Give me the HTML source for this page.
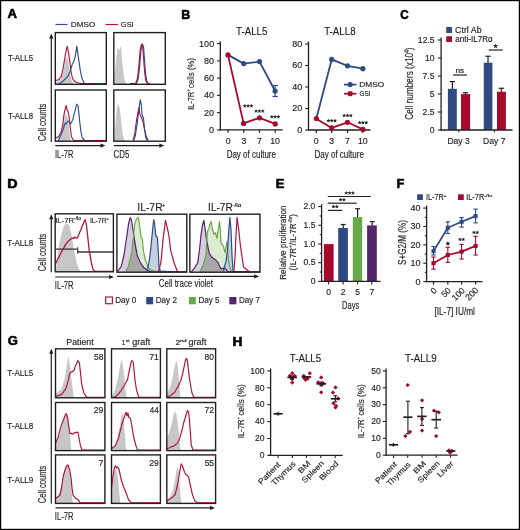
<!DOCTYPE html><html><head><meta charset="utf-8"><style>html,body{margin:0;padding:0;background:#fff}svg{display:block;will-change:transform;font-family:"Liberation Sans",sans-serif}text{stroke:#231f20;stroke-width:0.16px}</style></head><body>
<svg width="520" height="530" viewBox="0 0 520 530">
<rect x="0" y="0" width="520" height="530" fill="#fff"/>
<text x="7.47" y="18.2" font-size="12.06" textLength="9.49" lengthAdjust="spacingAndGlyphs" fill="#000" font-weight="bold" style="stroke:#000;stroke-width:0.55px">A</text>
<text x="181.39" y="18.8" font-size="12.06" textLength="9" lengthAdjust="spacingAndGlyphs" fill="#000" font-weight="bold" style="stroke:#000;stroke-width:0.55px">B</text>
<text x="400.24" y="18.8" font-size="12.06" textLength="8.38" lengthAdjust="spacingAndGlyphs" fill="#000" font-weight="bold" style="stroke:#000;stroke-width:0.55px">C</text>
<text x="7.27" y="188" font-size="12.06" textLength="10.33" lengthAdjust="spacingAndGlyphs" fill="#000" font-weight="bold" style="stroke:#000;stroke-width:0.55px">D</text>
<text x="275.66" y="187.9" font-size="12.06" textLength="8.62" lengthAdjust="spacingAndGlyphs" fill="#000" font-weight="bold" style="stroke:#000;stroke-width:0.55px">E</text>
<text x="396.47" y="187.9" font-size="12.06" textLength="7.79" lengthAdjust="spacingAndGlyphs" fill="#000" font-weight="bold" style="stroke:#000;stroke-width:0.55px">F</text>
<text x="7.68" y="345.2" font-size="12.06" textLength="10.14" lengthAdjust="spacingAndGlyphs" fill="#000" font-weight="bold" style="stroke:#000;stroke-width:0.55px">G</text>
<text x="232.41" y="345.6" font-size="12.06" textLength="9.91" lengthAdjust="spacingAndGlyphs" fill="#000" font-weight="bold" style="stroke:#000;stroke-width:0.55px">H</text>
<line x1="55.5" y1="24.5" x2="67.5" y2="24.5" stroke="#2d4d8e" stroke-width="1.2"/>
<text x="70.74" y="27.4" font-size="7.99" textLength="24.77" lengthAdjust="spacingAndGlyphs" fill="#231f20">DMSO</text>
<line x1="105.5" y1="24.5" x2="118" y2="24.5" stroke="#b3143f" stroke-width="1.2"/>
<text x="120.83" y="27.4" font-size="7.99" textLength="12.87" lengthAdjust="spacingAndGlyphs" fill="#231f20">GSI</text>
<text x="7.94" y="61.4" font-size="8.43" textLength="25.06" lengthAdjust="spacingAndGlyphs" fill="#231f20">T-ALL5</text>
<text x="7.94" y="118.6" font-size="8.43" textLength="25.06" lengthAdjust="spacingAndGlyphs" fill="#231f20">T-ALL8</text>
<text transform="translate(45.6,140.8) rotate(-90)" x="-0.38" y="0" font-size="10.9" textLength="37.56" lengthAdjust="spacingAndGlyphs" fill="#231f20">Cell counts</text>
<line x1="51.3" y1="142" x2="51.3" y2="37" stroke="#231f20" stroke-width="1.2"/>
<path d="M49.2 38.5 L51.3 33.5 L53.4 38.5 Z" fill="#231f20" stroke="none" stroke-width="0" stroke-linejoin="round"/>
<line x1="55.3" y1="145.6" x2="102" y2="145.6" stroke="#231f20" stroke-width="1.2"/>
<path d="M100.5 143.5 L105.5 145.6 L100.5 147.7 Z" fill="#231f20" stroke="none" stroke-width="0" stroke-linejoin="round"/>
<line x1="113.8" y1="145.6" x2="160.8" y2="145.6" stroke="#231f20" stroke-width="1.2"/>
<path d="M159.3 143.5 L164.3 145.6 L159.3 147.7 Z" fill="#231f20" stroke="none" stroke-width="0" stroke-linejoin="round"/>
<text x="55.03" y="157.7" font-size="10.47" textLength="18.31" lengthAdjust="spacingAndGlyphs" fill="#231f20">IL-7R</text>
<text x="113.61" y="157.7" font-size="10.47" textLength="15.71" lengthAdjust="spacingAndGlyphs" fill="#231f20">CD5</text>
<path d="M55.2 84 L55.2 82.5 L58.9 81 L61.2 79.6 L63.5 70.4 L65.3 61.2 L67 56.5 L68.2 60 L69.3 68 L71 78.5 L73.3 84 L73.3 84 Z" fill="#c7c7c9" stroke="none" stroke-width="0" stroke-linejoin="round"/>
<path d="M55.2 80.8 L56.12 80.44 L57.05 80.07 L57.98 79.96 L58.9 79.6 L60.05 77.9 L61.2 76.7 L62.1 72.98 L63 69.2 L63.85 63.89 L64.7 58.8 L65.55 53.85 L66.4 49.6 L67.2 46.4 L68.4 51.9 L69.9 62.3 L71 71.5 L72.5 78.5 L73.37 79.64 L74.23 80.62 L75.1 81.9 L76.02 82.18 L76.94 82.46 L77.86 82.74 L78.78 83.02 L79.7 83.3 L80.58 83.35 L81.47 83.4 L82.35 83.45 L83.23 83.5 L84.12 83.55 L85 83.6 L85.81 83.6 L86.62 83.6 L87.42 83.6 L88.23 83.6 L89.04 83.6 L89.85 83.6 L90.65 83.6 L91.46 83.6 L92.27 83.6 L93.08 83.6 L93.88 83.6 L94.69 83.6 L95.5 83.6 L96.31 83.6 L97.12 83.6 L97.92 83.6 L98.73 83.6 L99.54 83.6 L100.35 83.6 L101.15 83.6 L101.96 83.6 L102.77 83.6 L103.58 83.6 L104.38 83.6 L105.19 83.6 L106 83.6" fill="none" stroke="#b3143f" stroke-width="1.15" stroke-linejoin="round"/>
<path d="M58.9 84 L59.82 83.36 L60.74 82.72 L61.66 82.08 L62.58 81.42 L63.5 80.8 L64.38 79.75 L65.25 78.85 L66.12 78.13 L67 77.3 L67.97 76.03 L68.93 73.93 L69.9 72.7 L71.05 68.43 L72.2 64.6 L73.05 63 L73.9 61.2 L75.1 57.1 L76 51.9 L76.8 46.2 L77.6 51.9 L79.1 62.3 L80.3 70.4 L81.15 74.81 L82 78.5 L83.15 81.07 L84.3 83.6 L85.22 83.65 L86.15 83.7 L87.08 83.75 L88 83.8" fill="none" stroke="#2d4d8e" stroke-width="1.15" stroke-linejoin="round"/>
<path d="M114.2 84 L114.2 84 L115.8 62.3 L116.7 55.4 L117.5 48.5 L118.3 47.3 L119.2 50.8 L120.2 47.3 L121 46.7 L121.8 55.4 L122.7 66.9 L123.6 73.8 L124.4 79.6 L126.2 84 L126.2 84 Z" fill="#c7c7c9" stroke="none" stroke-width="0" stroke-linejoin="round"/>
<path d="M130 83.6 L130.81 83.6 L131.62 83.6 L132.44 83.6 L133.25 83.6 L134.06 83.6 L134.88 83.6 L135.69 83.6 L136.5 83.6 L137.4 81.02 L138.3 78.5 L139.8 64.6 L140.9 50.8 L142.1 43.8 L143.5 46.2 L144.4 58.8 L145.5 72.7 L146.7 80.8 L148.1 83.6 L149.05 83.6 L150 83.6" fill="none" stroke="#2d4d8e" stroke-width="1.15" stroke-linejoin="round"/>
<path d="M135.5 83.6 L136.5 81.19 L137.5 78.5 L139 64.6 L140.1 50.8 L141.3 44.5 L142.7 46.5 L143.6 58.8 L144.7 72.7 L145.9 80.8 L147.3 83.6" fill="none" stroke="#b3143f" stroke-width="1.15" stroke-linejoin="round"/>
<path d="M55.2 141 L55.2 141 L58.9 138.9 L61.8 133.2 L63.5 125.1 L64.7 117 L66.1 113.5 L67.6 118.2 L69.1 130.8 L70.5 141 L70.5 141 Z" fill="#c7c7c9" stroke="none" stroke-width="0" stroke-linejoin="round"/>
<path d="M55.2 138.3 L56.12 137.73 L57.05 137.58 L57.98 136.94 L58.9 136.6 L60.05 134.06 L61.2 132 L62.1 127.64 L63 123.9 L63.8 115.8 L64.7 111.2 L66.1 105.5 L67.2 110.1 L68.2 111.8 L69.1 117 L70.2 127.4 L71.4 136.6 L72.35 138.4 L73.3 140.3 L74.2 140.45 L75.1 140.6 L75.91 140.6 L76.73 140.6 L77.54 140.6 L78.35 140.6 L79.17 140.6 L79.98 140.6 L80.79 140.6 L81.61 140.6 L82.42 140.6 L83.23 140.6 L84.04 140.6 L84.86 140.6 L85.67 140.6 L86.48 140.6 L87.3 140.6 L88.11 140.6 L88.92 140.6 L89.74 140.6 L90.55 140.6 L91.36 140.6 L92.18 140.6 L92.99 140.6 L93.8 140.6 L94.62 140.6 L95.43 140.6 L96.24 140.6 L97.06 140.6 L97.87 140.6 L98.68 140.6 L99.49 140.6 L100.31 140.6 L101.12 140.6 L101.93 140.6 L102.75 140.6 L103.56 140.6 L104.37 140.6 L105.19 140.6 L106 140.6" fill="none" stroke="#b3143f" stroke-width="1.15" stroke-linejoin="round"/>
<path d="M58.3 140.6 L59.27 138.5 L60.23 136.55 L61.2 134.3 L62.1 131.74 L63 129.7 L64.5 125.1 L65.6 122.8 L66.4 123.9 L67.6 121.6 L68.7 121 L69.6 122.52 L70.5 123.9 L71.8 121.6 L73 119.3 L73.9 114.7 L75.1 110.7 L76 106.6 L76.8 104.1 L78 105.5 L78.8 112.4 L79.7 121.6 L80.8 130.8 L82.2 137.8 L83.1 138.73 L84 139.67 L84.9 140.6" fill="none" stroke="#2d4d8e" stroke-width="1.15" stroke-linejoin="round"/>
<path d="M114.2 141 L114.2 141 L115.8 119.3 L116.9 107.8 L118.3 103.2 L119.5 107.8 L121 119.3 L122.5 133.2 L123.8 138.9 L125 141 L125 141 Z" fill="#c7c7c9" stroke="none" stroke-width="0" stroke-linejoin="round"/>
<path d="M133.1 140.6 L133.95 136.96 L134.8 133.2 L135.65 126.75 L136.5 120.5 L137.9 112.4 L139.1 107.2 L139.8 114.1 L141.4 117.6 L142.9 121.6 L143.75 125.69 L144.6 129.7 L145.45 132.81 L146.3 136.6 L147.2 138.6 L148.1 140.6" fill="none" stroke="#b3143f" stroke-width="1.15" stroke-linejoin="round"/>
<path d="M133.7 140.6 L134.55 137.92 L135.4 135.5 L136.25 129.46 L137.1 123.9 L137.95 117.14 L138.8 110.1 L139.8 103.2 L140.3 99.9 L141.2 104.3 L142.1 114.7 L143.5 118.2 L144.6 129.7 L145.8 137.8 L147.2 140.6" fill="none" stroke="#2d4d8e" stroke-width="1.15" stroke-linejoin="round"/>
<rect x="55.3" y="32.6" width="51" height="51.7" fill="none" stroke="#231f20" stroke-width="1.4"/>
<rect x="113.8" y="32.6" width="51.5" height="51.7" fill="none" stroke="#231f20" stroke-width="1.4"/>
<rect x="55.3" y="90" width="51" height="51.2" fill="none" stroke="#231f20" stroke-width="1.4"/>
<rect x="113.8" y="90" width="51.5" height="51.2" fill="none" stroke="#231f20" stroke-width="1.4"/>
<text x="236.06" y="35" font-size="11.19" textLength="31.33" lengthAdjust="spacingAndGlyphs" fill="#231f20">T-ALL5</text>
<line x1="220.3" y1="130.5" x2="220.3" y2="41.25" stroke="#231f20" stroke-width="1.3"/>
<line x1="217" y1="129.9" x2="220.3" y2="129.9" stroke="#231f20" stroke-width="1.1"/>
<text x="209.11" y="132.8" font-size="9.01" textLength="5.01" lengthAdjust="spacingAndGlyphs" fill="#231f20">0</text>
<line x1="217" y1="112.65" x2="220.3" y2="112.65" stroke="#231f20" stroke-width="1.1"/>
<text x="204.11" y="115.55" font-size="9.01" textLength="10.02" lengthAdjust="spacingAndGlyphs" fill="#231f20">20</text>
<line x1="217" y1="95.4" x2="220.3" y2="95.4" stroke="#231f20" stroke-width="1.1"/>
<text x="204.11" y="98.3" font-size="9.01" textLength="10.02" lengthAdjust="spacingAndGlyphs" fill="#231f20">40</text>
<line x1="217" y1="78.15" x2="220.3" y2="78.15" stroke="#231f20" stroke-width="1.1"/>
<text x="204.11" y="81.05" font-size="9.01" textLength="10.02" lengthAdjust="spacingAndGlyphs" fill="#231f20">60</text>
<line x1="217" y1="60.9" x2="220.3" y2="60.9" stroke="#231f20" stroke-width="1.1"/>
<text x="204.11" y="63.8" font-size="9.01" textLength="10.02" lengthAdjust="spacingAndGlyphs" fill="#231f20">80</text>
<line x1="217" y1="43.65" x2="220.3" y2="43.65" stroke="#231f20" stroke-width="1.1"/>
<text x="199.11" y="46.55" font-size="9.01" textLength="15.04" lengthAdjust="spacingAndGlyphs" fill="#231f20">100</text>
<line x1="219.7" y1="129.9" x2="282.8" y2="129.9" stroke="#231f20" stroke-width="1.4"/>
<line x1="228.1" y1="129.9" x2="228.1" y2="132.8" stroke="#231f20" stroke-width="1.2"/>
<text x="225.66" y="143.6" font-size="8.72" textLength="4.85" lengthAdjust="spacingAndGlyphs" fill="#231f20">0</text>
<line x1="243.8" y1="129.9" x2="243.8" y2="132.8" stroke="#231f20" stroke-width="1.2"/>
<text x="241.38" y="143.6" font-size="8.72" textLength="4.85" lengthAdjust="spacingAndGlyphs" fill="#231f20">3</text>
<line x1="259.5" y1="129.9" x2="259.5" y2="132.8" stroke="#231f20" stroke-width="1.2"/>
<text x="257.08" y="143.6" font-size="8.72" textLength="4.85" lengthAdjust="spacingAndGlyphs" fill="#231f20">7</text>
<line x1="275.2" y1="129.9" x2="275.2" y2="132.8" stroke="#231f20" stroke-width="1.2"/>
<text x="270.19" y="143.6" font-size="8.72" textLength="9.7" lengthAdjust="spacingAndGlyphs" fill="#231f20">10</text>
<g transform="translate(193.8,109) rotate(-90)">
<text x="-0.66" y="0" font-size="9.74" textLength="17.83" lengthAdjust="spacingAndGlyphs" fill="#231f20">IL-7R</text>
<text x="17.17" y="-3.9" font-size="6.04" textLength="3.9" lengthAdjust="spacingAndGlyphs" fill="#231f20">+ </text>
<text x="21.07" y="0" font-size="9.74" textLength="29.98" lengthAdjust="spacingAndGlyphs" fill="#231f20"> cells (%)</text>
</g>
<text x="226.66" y="157.5" font-size="10.17" textLength="49.3" lengthAdjust="spacingAndGlyphs" fill="#231f20">Day of culture</text>
<line x1="275.1" y1="85.5" x2="275.1" y2="96.5" stroke="#2d4b80" stroke-width="1.2"/>
<line x1="272.5" y1="85.5" x2="277.9" y2="85.5" stroke="#2d4b80" stroke-width="1.2"/>
<line x1="272.5" y1="96.5" x2="277.9" y2="96.5" stroke="#2d4b80" stroke-width="1.2"/>
<path d="M228 54.9 L243.7 63.6 L259.5 61.6 L275.1 91" fill="none" stroke="#2d4b80" stroke-width="1.8" stroke-linejoin="round"/>
<path d="M228 54.9 L243.6 123.4 L259.5 117.8 L275.2 123.9" fill="none" stroke="#a50a2d" stroke-width="1.8" stroke-linejoin="round"/>
<circle cx="243.7" cy="63.6" r="2.6" fill="#2d4b80"/>
<circle cx="259.5" cy="61.6" r="2.6" fill="#2d4b80"/>
<circle cx="275.1" cy="91" r="2.6" fill="#2d4b80"/>
<circle cx="228" cy="54.9" r="2.6" fill="#a50a2d"/>
<circle cx="243.6" cy="123.4" r="2.6" fill="#a50a2d"/>
<circle cx="259.5" cy="117.8" r="2.6" fill="#a50a2d"/>
<circle cx="275.2" cy="123.9" r="2.6" fill="#a50a2d"/>
<path d="M244.8 106L244.8 104.75M244.8 106L245.99 105.61M244.8 106L245.53 107.01M244.8 106L244.07 107.01M244.8 106L243.61 105.61" stroke="#231f20" stroke-width="0.95" stroke-linecap="round"/>
<path d="M248.1 106L248.1 104.75M248.1 106L249.29 105.61M248.1 106L248.83 107.01M248.1 106L247.37 107.01M248.1 106L246.91 105.61" stroke="#231f20" stroke-width="0.95" stroke-linecap="round"/>
<path d="M251.4 106L251.4 104.75M251.4 106L252.59 105.61M251.4 106L252.13 107.01M251.4 106L250.67 107.01M251.4 106L250.21 105.61" stroke="#231f20" stroke-width="0.95" stroke-linecap="round"/>
<path d="M256.1 111.2L256.1 109.95M256.1 111.2L257.29 110.81M256.1 111.2L256.83 112.21M256.1 111.2L255.37 112.21M256.1 111.2L254.91 110.81" stroke="#231f20" stroke-width="0.95" stroke-linecap="round"/>
<path d="M259.4 111.2L259.4 109.95M259.4 111.2L260.59 110.81M259.4 111.2L260.13 112.21M259.4 111.2L258.67 112.21M259.4 111.2L258.21 110.81" stroke="#231f20" stroke-width="0.95" stroke-linecap="round"/>
<path d="M262.7 111.2L262.7 109.95M262.7 111.2L263.89 110.81M262.7 111.2L263.43 112.21M262.7 111.2L261.97 112.21M262.7 111.2L261.51 110.81" stroke="#231f20" stroke-width="0.95" stroke-linecap="round"/>
<path d="M271.8 116.9L271.8 115.65M271.8 116.9L272.99 116.51M271.8 116.9L272.53 117.91M271.8 116.9L271.07 117.91M271.8 116.9L270.61 116.51" stroke="#231f20" stroke-width="0.95" stroke-linecap="round"/>
<path d="M275.1 116.9L275.1 115.65M275.1 116.9L276.29 116.51M275.1 116.9L275.83 117.91M275.1 116.9L274.37 117.91M275.1 116.9L273.91 116.51" stroke="#231f20" stroke-width="0.95" stroke-linecap="round"/>
<path d="M278.4 116.9L278.4 115.65M278.4 116.9L279.59 116.51M278.4 116.9L279.13 117.91M278.4 116.9L277.67 117.91M278.4 116.9L277.21 116.51" stroke="#231f20" stroke-width="0.95" stroke-linecap="round"/>
<text x="324.21" y="35" font-size="10.76" textLength="31.38" lengthAdjust="spacingAndGlyphs" fill="#231f20">T-ALL8</text>
<line x1="308.5" y1="130.6" x2="308.5" y2="41.6" stroke="#231f20" stroke-width="1.3"/>
<line x1="305.2" y1="130" x2="308.5" y2="130" stroke="#231f20" stroke-width="1.1"/>
<text x="297.21" y="132.9" font-size="9.01" textLength="5.01" lengthAdjust="spacingAndGlyphs" fill="#231f20">0</text>
<line x1="305.2" y1="108.5" x2="308.5" y2="108.5" stroke="#231f20" stroke-width="1.1"/>
<text x="292.21" y="111.4" font-size="9.01" textLength="10.02" lengthAdjust="spacingAndGlyphs" fill="#231f20">20</text>
<line x1="305.2" y1="87" x2="308.5" y2="87" stroke="#231f20" stroke-width="1.1"/>
<text x="292.21" y="89.9" font-size="9.01" textLength="10.02" lengthAdjust="spacingAndGlyphs" fill="#231f20">40</text>
<line x1="305.2" y1="65.5" x2="308.5" y2="65.5" stroke="#231f20" stroke-width="1.1"/>
<text x="292.21" y="68.4" font-size="9.01" textLength="10.02" lengthAdjust="spacingAndGlyphs" fill="#231f20">60</text>
<line x1="305.2" y1="44" x2="308.5" y2="44" stroke="#231f20" stroke-width="1.1"/>
<text x="292.21" y="46.9" font-size="9.01" textLength="10.02" lengthAdjust="spacingAndGlyphs" fill="#231f20">80</text>
<line x1="307.9" y1="130" x2="370.4" y2="130" stroke="#231f20" stroke-width="1.4"/>
<line x1="316.3" y1="130" x2="316.3" y2="133" stroke="#231f20" stroke-width="1.2"/>
<text x="313.86" y="143.7" font-size="8.72" textLength="4.85" lengthAdjust="spacingAndGlyphs" fill="#231f20">0</text>
<line x1="331.7" y1="130" x2="331.7" y2="133" stroke="#231f20" stroke-width="1.2"/>
<text x="329.28" y="143.7" font-size="8.72" textLength="4.85" lengthAdjust="spacingAndGlyphs" fill="#231f20">3</text>
<line x1="347.5" y1="130" x2="347.5" y2="133" stroke="#231f20" stroke-width="1.2"/>
<text x="345.08" y="143.7" font-size="8.72" textLength="4.85" lengthAdjust="spacingAndGlyphs" fill="#231f20">7</text>
<line x1="362.9" y1="130" x2="362.9" y2="133" stroke="#231f20" stroke-width="1.2"/>
<text x="357.89" y="143.7" font-size="8.72" textLength="9.7" lengthAdjust="spacingAndGlyphs" fill="#231f20">10</text>
<text x="314.56" y="157.5" font-size="10.17" textLength="49.3" lengthAdjust="spacingAndGlyphs" fill="#231f20">Day of culture</text>
<path d="M316.3 118.7 L331.7 59.4 L347.5 65.8 L362.9 68.7" fill="none" stroke="#2d4b80" stroke-width="1.8" stroke-linejoin="round"/>
<path d="M316.3 118.7 L331.7 127.9 L347.5 122.3 L362.9 129.4" fill="none" stroke="#a50a2d" stroke-width="1.8" stroke-linejoin="round"/>
<circle cx="331.7" cy="59.4" r="2.6" fill="#2d4b80"/>
<circle cx="347.5" cy="65.8" r="2.6" fill="#2d4b80"/>
<circle cx="362.9" cy="68.7" r="2.6" fill="#2d4b80"/>
<circle cx="316.3" cy="118.5" r="2.6" fill="#a50a2d"/>
<circle cx="331.7" cy="127.9" r="2.6" fill="#a50a2d"/>
<circle cx="347.5" cy="122.3" r="2.6" fill="#a50a2d"/>
<circle cx="362.9" cy="129.4" r="2.6" fill="#a50a2d"/>
<path d="M328.4 120.8L328.4 119.55M328.4 120.8L329.59 120.41M328.4 120.8L329.13 121.81M328.4 120.8L327.67 121.81M328.4 120.8L327.21 120.41" stroke="#231f20" stroke-width="0.95" stroke-linecap="round"/>
<path d="M331.7 120.8L331.7 119.55M331.7 120.8L332.89 120.41M331.7 120.8L332.43 121.81M331.7 120.8L330.97 121.81M331.7 120.8L330.51 120.41" stroke="#231f20" stroke-width="0.95" stroke-linecap="round"/>
<path d="M335 120.8L335 119.55M335 120.8L336.19 120.41M335 120.8L335.73 121.81M335 120.8L334.27 121.81M335 120.8L333.81 120.41" stroke="#231f20" stroke-width="0.95" stroke-linecap="round"/>
<path d="M344.2 115.6L344.2 114.35M344.2 115.6L345.39 115.21M344.2 115.6L344.93 116.61M344.2 115.6L343.47 116.61M344.2 115.6L343.01 115.21" stroke="#231f20" stroke-width="0.95" stroke-linecap="round"/>
<path d="M347.5 115.6L347.5 114.35M347.5 115.6L348.69 115.21M347.5 115.6L348.23 116.61M347.5 115.6L346.77 116.61M347.5 115.6L346.31 115.21" stroke="#231f20" stroke-width="0.95" stroke-linecap="round"/>
<path d="M350.8 115.6L350.8 114.35M350.8 115.6L351.99 115.21M350.8 115.6L351.53 116.61M350.8 115.6L350.07 116.61M350.8 115.6L349.61 115.21" stroke="#231f20" stroke-width="0.95" stroke-linecap="round"/>
<path d="M359.6 122.7L359.6 121.45M359.6 122.7L360.79 122.31M359.6 122.7L360.33 123.71M359.6 122.7L358.87 123.71M359.6 122.7L358.41 122.31" stroke="#231f20" stroke-width="0.95" stroke-linecap="round"/>
<path d="M362.9 122.7L362.9 121.45M362.9 122.7L364.09 122.31M362.9 122.7L363.63 123.71M362.9 122.7L362.17 123.71M362.9 122.7L361.71 122.31" stroke="#231f20" stroke-width="0.95" stroke-linecap="round"/>
<path d="M366.2 122.7L366.2 121.45M366.2 122.7L367.39 122.31M366.2 122.7L366.93 123.71M366.2 122.7L365.47 123.71M366.2 122.7L365.01 122.31" stroke="#231f20" stroke-width="0.95" stroke-linecap="round"/>
<line x1="344" y1="84.6" x2="356.4" y2="84.6" stroke="#2d4b80" stroke-width="1.7"/>
<circle cx="350.2" cy="84.6" r="2.6" fill="#2d4b80"/>
<text x="359.23" y="87.3" font-size="7.7" textLength="24.98" lengthAdjust="spacingAndGlyphs" fill="#231f20">DMSO</text>
<line x1="344" y1="93.7" x2="356.4" y2="93.7" stroke="#a50a2d" stroke-width="1.7"/>
<circle cx="350.2" cy="93.7" r="2.6" fill="#a50a2d"/>
<text x="359.58" y="96.4" font-size="7.7" textLength="11.01" lengthAdjust="spacingAndGlyphs" fill="#231f20">GSI</text>
<rect x="446.25" y="27" width="5.75" height="6" fill="#2d4b80"/>
<text x="455.06" y="33" font-size="8.43" textLength="26.56" lengthAdjust="spacingAndGlyphs" fill="#231f20">Ctrl Ab</text>
<rect x="446.25" y="36.25" width="5.75" height="5.75" fill="#a50a2d"/>
<text x="455.18" y="42.2" font-size="8.43" textLength="37.53" lengthAdjust="spacingAndGlyphs" fill="#231f20">anti-IL7Rα</text>
<line x1="441.1" y1="130.6" x2="441.1" y2="37.6" stroke="#231f20" stroke-width="1.3"/>
<line x1="437.8" y1="130" x2="441.1" y2="130" stroke="#231f20" stroke-width="1.1"/>
<text x="429.74" y="132.75" font-size="8.58" textLength="4.77" lengthAdjust="spacingAndGlyphs" fill="#231f20">0</text>
<line x1="437.8" y1="112" x2="441.1" y2="112" stroke="#231f20" stroke-width="1.1"/>
<text x="422.62" y="114.75" font-size="8.58" textLength="11.92" lengthAdjust="spacingAndGlyphs" fill="#231f20">2.5</text>
<line x1="437.8" y1="94" x2="441.1" y2="94" stroke="#231f20" stroke-width="1.1"/>
<text x="429.78" y="96.75" font-size="8.58" textLength="4.77" lengthAdjust="spacingAndGlyphs" fill="#231f20">5</text>
<line x1="437.8" y1="76" x2="441.1" y2="76" stroke="#231f20" stroke-width="1.1"/>
<text x="422.62" y="78.75" font-size="8.58" textLength="11.92" lengthAdjust="spacingAndGlyphs" fill="#231f20">7.5</text>
<line x1="437.8" y1="58" x2="441.1" y2="58" stroke="#231f20" stroke-width="1.1"/>
<text x="424.98" y="60.75" font-size="8.58" textLength="9.54" lengthAdjust="spacingAndGlyphs" fill="#231f20">10</text>
<line x1="437.8" y1="40" x2="441.1" y2="40" stroke="#231f20" stroke-width="1.1"/>
<text x="417.86" y="42.75" font-size="8.58" textLength="16.69" lengthAdjust="spacingAndGlyphs" fill="#231f20">12.5</text>
<line x1="452.4" y1="81.6" x2="452.4" y2="89.8" stroke="#231f20" stroke-width="1.2"/>
<line x1="449.8" y1="81.6" x2="455" y2="81.6" stroke="#231f20" stroke-width="1.2"/>
<line x1="465.5" y1="92.7" x2="465.5" y2="95.1" stroke="#231f20" stroke-width="1.2"/>
<line x1="462.9" y1="92.7" x2="468.1" y2="92.7" stroke="#231f20" stroke-width="1.2"/>
<line x1="488" y1="56.25" x2="488" y2="63.7" stroke="#231f20" stroke-width="1.2"/>
<line x1="485.4" y1="56.25" x2="490.6" y2="56.25" stroke="#231f20" stroke-width="1.2"/>
<line x1="501.3" y1="88.25" x2="501.3" y2="92.75" stroke="#231f20" stroke-width="1.2"/>
<line x1="498.7" y1="88.25" x2="503.9" y2="88.25" stroke="#231f20" stroke-width="1.2"/>
<rect x="447.9" y="88.8" width="8.9" height="41.2" fill="#2d4b80"/>
<rect x="461" y="94.1" width="9.1" height="35.9" fill="#a50a2d"/>
<rect x="483.75" y="62.7" width="8.65" height="67.3" fill="#2d4b80"/>
<rect x="497" y="91.75" width="8.9" height="38.25" fill="#a50a2d"/>
<line x1="440.5" y1="130" x2="512.5" y2="130" stroke="#231f20" stroke-width="1.3"/>
<line x1="458.75" y1="130" x2="458.75" y2="132.3" stroke="#231f20" stroke-width="1.1"/>
<line x1="494.5" y1="130" x2="494.5" y2="132.3" stroke="#231f20" stroke-width="1.1"/>
<text x="447.42" y="143.75" font-size="8.87" textLength="22.35" lengthAdjust="spacingAndGlyphs" fill="#231f20">Day 3</text>
<text x="483.06" y="143.75" font-size="8.87" textLength="22.38" lengthAdjust="spacingAndGlyphs" fill="#231f20">Day 7</text>
<line x1="453.1" y1="75" x2="466.9" y2="75" stroke="#231f20" stroke-width="1.2"/>
<text x="455.46" y="72.75" font-size="7.19" textLength="8.85" lengthAdjust="spacingAndGlyphs" fill="#231f20">ns</text>
<line x1="488.75" y1="50" x2="502.75" y2="50" stroke="#231f20" stroke-width="1.2"/>
<path d="M495.6 46.1L495.6 44.4M495.6 46.1L497.22 45.57M495.6 46.1L496.6 47.48M495.6 46.1L494.6 47.48M495.6 46.1L493.98 45.57" stroke="#231f20" stroke-width="1.05" stroke-linecap="round"/>
<g transform="translate(413.2,119.3) rotate(-90)">
<text x="-0.41" y="0" font-size="10.17" textLength="66.75" lengthAdjust="spacingAndGlyphs" fill="#231f20">Cell numbers (x10</text>
<text x="66.34" y="-4.07" font-size="6.31" textLength="2.84" lengthAdjust="spacingAndGlyphs" fill="#231f20">4</text>
<text x="69.18" y="0" font-size="10.17" textLength="2.74" lengthAdjust="spacingAndGlyphs" fill="#231f20">)</text>
</g>
<text x="7.34" y="245.5" font-size="8.58" textLength="25.98" lengthAdjust="spacingAndGlyphs" fill="#231f20">T-ALL8</text>
<text transform="translate(45.6,270.8) rotate(-90)" x="-0.38" y="0" font-size="10.9" textLength="37.56" lengthAdjust="spacingAndGlyphs" fill="#231f20">Cell counts</text>
<line x1="51.3" y1="272.3" x2="51.3" y2="217.8" stroke="#231f20" stroke-width="1.2"/>
<path d="M49.2 219.3 L51.3 214.3 L53.4 219.3 Z" fill="#231f20" stroke="none" stroke-width="0" stroke-linejoin="round"/>
<line x1="55.2" y1="277" x2="110.5" y2="277" stroke="#231f20" stroke-width="1.2"/>
<path d="M109 274.9 L114 277 L109 279.1 Z" fill="#231f20" stroke="none" stroke-width="0" stroke-linejoin="round"/>
<text x="54.81" y="288.75" font-size="10.47" textLength="18.79" lengthAdjust="spacingAndGlyphs" fill="#231f20">IL-7R</text>
<path d="M55.6 271.8 L55.6 271.8 L57.1 259.4 L59.1 244 L61.6 233.7 L63.6 226.6 L64.8 224.7 L66.1 223.4 L68 224 L70 227.3 L71.3 233.7 L73.2 245.2 L75.1 255.5 L77 263.2 L79 269.6 L81.5 271.8 L81.5 271.8 Z" fill="#c7c7c9" stroke="none" stroke-width="0" stroke-linejoin="round"/>
<path d="M55.2 264.5 L56.27 262.28 L57.33 260.01 L58.4 258.1 L59.38 256.28 L60.35 254.19 L61.32 252.08 L62.3 250.4 L63.13 249.25 L63.97 247.64 L64.8 245.9 L65.67 244.29 L66.53 243.39 L67.4 242 L68.27 241.2 L69.13 240.78 L70 239.5 L70.83 239.34 L71.67 238.38 L72.5 238.2 L73.37 238.54 L74.23 237.28 L75.1 237.5 L76.05 237.75 L77 238.2 L78 236.56 L79 234.3 L79.95 231.63 L80.9 229.8 L81.85 227.24 L82.8 224.7 L84.1 221.5 L85.1 219.6 L86.4 224.7 L87.7 236.2 L89.2 250.4 L90.2 255.6 L91.2 261.9 L92.15 265.9 L93.1 269.6 L94.05 270.5 L95 271.4 L95.82 271.4 L96.64 271.4 L97.45 271.4 L98.27 271.4 L99.09 271.4 L99.91 271.4 L100.73 271.4 L101.55 271.4 L102.36 271.4 L103.18 271.4 L104 271.4 L104.82 271.4 L105.64 271.4 L106.45 271.4 L107.27 271.4 L108.09 271.4 L108.91 271.4 L109.73 271.4 L110.55 271.4 L111.36 271.4 L112.18 271.4 L113 271.4" fill="none" stroke="#b3143f" stroke-width="1.3" stroke-linejoin="round"/>
<line x1="55.2" y1="249.1" x2="77.7" y2="249.1" stroke="#3a3a3a" stroke-width="1.3"/>
<line x1="77.7" y1="247.3" x2="77.7" y2="251" stroke="#3a3a3a" stroke-width="1.1"/>
<line x1="77.7" y1="252" x2="113.4" y2="252" stroke="#3a3a3a" stroke-width="1.3"/>
<line x1="77.7" y1="250.2" x2="77.7" y2="253.8" stroke="#3a3a3a" stroke-width="1.1"/>
<text x="55.2" y="222.8" font-size="7.27" textLength="18.95" lengthAdjust="spacingAndGlyphs" fill="#231f20">IL-7R</text>
<text x="73.97" y="220.2" font-size="4.65" textLength="7.13" lengthAdjust="spacingAndGlyphs" fill="#231f20">-/lo</text>
<text x="89.88" y="222.8" font-size="7.27" textLength="16.73" lengthAdjust="spacingAndGlyphs" fill="#231f20">IL-7R</text>
<text x="106.39" y="220.2" font-size="4.36" textLength="2.41" lengthAdjust="spacingAndGlyphs" fill="#231f20">+</text>
<rect x="55.2" y="213.8" width="58.2" height="58" fill="none" stroke="#231f20" stroke-width="1.4"/>
<path d="M117.6 272.2 L117.6 272.2 L118.2 270.5 L121.2 266.5 L124 255 L126.5 238 L128.5 224 L130.2 217.6 L131.5 220 L133 230 L135 243 L137.4 255.8 L140 262 L143 266.5 L147.4 270.5 L150 271.8 L150 272.2 Z" fill="#d8cde0" stroke="none" stroke-width="0" stroke-linejoin="round"/>
<path d="M125.8 272.2 L125.8 272.2 L128.5 266 L130.5 258 L132 249.6 L133.5 236 L134.8 223.5 L136.5 219 L137.5 218.5 L138.2 217 L139 221 L139.7 226.5 L141.2 238 L142.2 238.5 L143.5 251 L145 258.8 L148.2 268 L152 270.5 L156.6 271.8 L156.6 272.2 Z" fill="#dcecd2" stroke="none" stroke-width="0" stroke-linejoin="round"/>
<path d="M125.8 272.2 L125.8 272.2 L126.2 271.28 L126.6 270.36 L127 269.44 L127.4 268.53 L127.8 267.61 L128.2 266.69 L128.6 265.6 L129 264 L129.4 262.4 L129.8 260.8 L130.2 259.2 L130.6 257.44 L131 255.2 L131.4 252.96 L131.8 250.72 L132.2 247.79 L132.6 244.16 L133 240.53 L133.4 236.91 L133.8 235.2 L134.2 237.8 L134.6 240.4 L135 243 L135.4 245.13 L135.8 247.27 L136.2 249.4 L136.6 251.53 L137 253.67 L137.4 255.8 L137.8 256.75 L138.2 257.71 L138.6 258.66 L139 259.62 L139.4 260.57 L139.8 261.52 L140.2 262.3 L140.6 262.9 L141 263.5 L141.4 264.1 L141.8 264.7 L142.2 265.3 L142.6 265.9 L143 266.5 L143.4 266.86 L143.8 267.23 L144.2 267.59 L144.6 267.95 L145 268.32 L145.4 268.68 L145.8 269.05 L146.2 269.41 L146.6 269.77 L147 270.14 L147.4 270.5 L147.8 270.7 L148.2 270.9 L148.6 271.1 L149 271.3 L149.4 271.5 L149.8 271.7 L149.8 272.2 Z" fill="#a9a8a9" stroke="none" stroke-width="0" stroke-linejoin="round"/>
<path d="M147.7 272.2 L147.7 272.2 L149 262 L150.5 251 L152 236 L153.2 224 L153.8 219.6 L154.6 224 L155.8 235.8 L157.4 237.3 L158.2 250 L159 266.5 L160 271.5 L160 272.2 Z" fill="#c4cfe0" stroke="none" stroke-width="0" stroke-linejoin="round"/>
<path d="M117.3 271.5 L118.2 270.5 L119.2 269.25 L120.2 267.87 L121.2 266.5 L122.13 262.97 L123.07 258.68 L124 255 L124.83 249.49 L125.67 243.74 L126.5 238 L127.5 231.06 L128.5 224 L129.35 220.76 L130.2 217.6 L131.5 220 L133 230 L134 236.77 L135 243 L135.8 247.62 L136.6 251.51 L137.4 255.8 L138.27 258 L139.13 259.58 L140 262 L141 263.66 L142 265.11 L143 266.5 L143.88 267.54 L144.76 268.23 L145.64 268.83 L146.52 269.7 L147.4 270.5 L148.27 270.83 L149.13 271.17 L150 271.5 L150.81 271.5 L151.62 271.5 L152.43 271.5 L153.24 271.5 L154.06 271.5 L154.87 271.5 L155.68 271.5 L156.49 271.5 L157.3 271.5 L158.11 271.5 L158.92 271.5 L159.73 271.5 L160.54 271.5 L161.36 271.5 L162.17 271.5 L162.98 271.5 L163.79 271.5 L164.6 271.5 L165.41 271.5 L166.22 271.5 L167.03 271.5 L167.84 271.5 L168.66 271.5 L169.47 271.5 L170.28 271.5 L171.09 271.5 L171.9 271.5 L172.71 271.5 L173.52 271.5 L174.33 271.5 L175.14 271.5 L175.96 271.5 L176.77 271.5 L177.58 271.5 L178.39 271.5 L179.2 271.5 L180.01 271.5 L180.82 271.5 L181.63 271.5 L182.44 271.5 L183.26 271.5 L184.07 271.5 L184.88 271.5 L185.69 271.5 L186.5 271.5" fill="none" stroke="#522668" stroke-width="1.2" stroke-linejoin="round"/>
<path d="M125.8 271.5 L126.7 269.62 L127.6 267.96 L128.5 266 L129.5 261.33 L130.5 258 L132 249.6 L133.5 236 L134.8 223.5 L135.65 221.2 L136.5 219 L137.5 218.5 L138.2 217 L139 221 L139.7 226.5 L141.2 238 L142.2 238.5 L143.5 251 L145 258.8 L146.07 261.4 L147.13 264.45 L148.2 268 L149.15 268.35 L150.1 269.39 L151.05 269.88 L152 270.5 L152.92 270.7 L153.84 270.9 L154.76 271.1 L155.68 271.3 L156.6 271.5" fill="none" stroke="#69a84a" stroke-width="1.2" stroke-linejoin="round"/>
<path d="M147.2 271.5 L149 262 L150.5 251 L152 236 L153.2 224 L153.8 219.6 L154.6 224 L155.8 235.8 L157.4 237.3 L158.2 250 L159 266.5 L160.5 271.5 L163 271.2 L168 271.5" fill="none" stroke="#2d4d8e" stroke-width="1.2" stroke-linejoin="round"/>
<path d="M158.5 271.5 L161 262 L163 240 L165.5 220.4 L166.8 226 L168.2 232 L169.5 240 L170.5 249.6 L172.5 257 L174.3 263.5 L177.4 271.5 L186.5 271.5" fill="none" stroke="#b3143f" stroke-width="1.2" stroke-linejoin="round"/>
<rect x="116.9" y="214.2" width="69.9" height="58" fill="none" stroke="#231f20" stroke-width="1.4"/>
<path d="M191.5 272.2 L191.5 272.2 L194.5 268 L197.8 262.3 L199.5 250 L201 235 L202.5 225 L203.9 220.3 L205 228 L206.6 239.9 L208 247 L209 252.7 L211.4 256.7 L213.8 258.3 L217.9 262.3 L221 268.7 L223 268.5 L225 268 L227.5 271.8 L227.5 272.2 Z" fill="#d8cde0" stroke="none" stroke-width="0" stroke-linejoin="round"/>
<path d="M200.2 272.2 L200.2 272.2 L203 265 L205.8 255.9 L207.4 231.9 L209 227.9 L211 221.4 L212.3 228 L213.8 234.3 L215.4 232.7 L217 238.3 L218.5 228 L219.5 221.4 L220.3 230 L221 243 L223.5 246.3 L225 252.7 L227 241.5 L228.3 259 L230 268 L231.5 271.8 L231.5 272.2 Z" fill="#dcecd2" stroke="none" stroke-width="0" stroke-linejoin="round"/>
<path d="M200.2 272.2 L200.2 272.2 L200.6 271.17 L201 270.14 L201.4 269.11 L201.8 268.09 L202.2 267.06 L202.6 266.03 L203 265 L203.4 263.7 L203.8 262.4 L204.2 261.1 L204.6 259.8 L205 258.5 L205.4 257.2 L205.8 255.9 L206.2 249.9 L206.6 243.9 L207 241.93 L207.4 243.96 L207.8 245.99 L208.2 248.14 L208.6 250.42 L209 252.7 L209.4 253.37 L209.8 254.03 L210.2 254.7 L210.6 255.37 L211 256.03 L211.4 256.7 L211.8 256.97 L212.2 257.23 L212.6 257.5 L213 257.77 L213.4 258.03 L213.8 258.3 L214.2 258.69 L214.6 259.08 L215 259.47 L215.4 259.86 L215.8 260.25 L216.2 260.64 L216.6 261.03 L217 261.42 L217.4 261.81 L217.8 262.2 L218.2 262.92 L218.6 263.75 L219 264.57 L219.4 265.4 L219.8 266.22 L220.2 267.05 L220.6 267.87 L221 268.7 L221.4 268.66 L221.8 268.62 L222.2 268.58 L222.6 268.54 L223 268.5 L223.4 268.4 L223.8 268.3 L224.2 268.2 L224.6 268.1 L225 268 L225.4 268.61 L225.8 269.22 L226.2 269.82 L226.6 270.43 L227 271.04 L227.4 271.65 L227.4 272.2 Z" fill="#a9a8a9" stroke="none" stroke-width="0" stroke-linejoin="round"/>
<path d="M224.3 272.2 L224.3 272.2 L226 262 L227.5 250 L228.8 230 L229.9 217.4 L231 230 L232 255 L233.1 271.8 L233.1 272.2 Z" fill="#c4cfe0" stroke="none" stroke-width="0" stroke-linejoin="round"/>
<path d="M190.3 271.5 L191.25 271.25 L192.2 271 L193.35 269.4 L194.5 268 L195.32 266.43 L196.15 265.07 L196.98 264.02 L197.8 262.3 L198.65 255.81 L199.5 250 L201 235 L202.5 225 L203.9 220.3 L205 228 L206.6 239.9 L208 247 L209 252.7 L209.8 253.99 L210.6 255.41 L211.4 256.7 L212.2 257.54 L213 258.02 L213.8 258.3 L214.62 259.39 L215.44 259.72 L216.26 260.63 L217.08 261.39 L217.9 262.3 L218.93 264.73 L219.97 266.82 L221 268.7 L222 268.47 L223 268.5 L224 268.12 L225 268 L225.83 269.09 L226.67 270.33 L227.5 271.5 L228.3 271.5 L229.1 271.5 L229.91 271.5 L230.71 271.5 L231.51 271.5 L232.31 271.5 L233.12 271.5 L233.92 271.5 L234.72 271.5 L235.53 271.5 L236.33 271.5 L237.13 271.5 L237.93 271.5 L238.74 271.5 L239.54 271.5 L240.34 271.5 L241.14 271.5 L241.95 271.5 L242.75 271.5 L243.55 271.5 L244.35 271.5 L245.16 271.5 L245.96 271.5 L246.76 271.5 L247.56 271.5 L248.37 271.5 L249.17 271.5 L249.97 271.5 L250.77 271.5 L251.58 271.5 L252.38 271.5 L253.18 271.5 L253.98 271.5 L254.79 271.5 L255.59 271.5 L256.39 271.5 L257.19 271.5 L258 271.5 L258.8 271.5 L259.6 271.5" fill="none" stroke="#522668" stroke-width="1.2" stroke-linejoin="round"/>
<path d="M200.2 271.5 L201.13 269.2 L202.07 267.15 L203 265 L203.93 262.09 L204.87 258.6 L205.8 255.9 L207.4 231.9 L209 227.9 L210 223.96 L211 221.4 L212.3 228 L213.8 234.3 L215.4 232.7 L217 238.3 L218.5 228 L219.5 221.4 L220.3 230 L221 243 L221.83 243.99 L222.67 245.02 L223.5 246.3 L225 252.7 L226 247.19 L227 241.5 L228.3 259 L229.15 264.13 L230 268 L231.5 271.5" fill="none" stroke="#69a84a" stroke-width="1.2" stroke-linejoin="round"/>
<path d="M223.5 271.5 L224.3 267 L226 262 L227.5 250 L228.8 230 L229.9 217.4 L231 230 L232 255 L233.1 271.5" fill="none" stroke="#2d4d8e" stroke-width="1.2" stroke-linejoin="round"/>
<path d="M233.9 271.5 L235 258 L236 235 L237.1 217.4 L238.5 228 L240.3 244.7 L241.9 255.9 L243.5 267 L246 269 L249.1 271.5 L259.6 271.5" fill="none" stroke="#b3143f" stroke-width="1.2" stroke-linejoin="round"/>
<rect x="189.85" y="214.2" width="70.1" height="58" fill="none" stroke="#231f20" stroke-width="1.4"/>
<text x="137.26" y="210.6" font-size="10.61" textLength="25.41" lengthAdjust="spacingAndGlyphs" fill="#231f20">IL-7R</text>
<text x="162.35" y="206.5" font-size="4.8" textLength="2.89" lengthAdjust="spacingAndGlyphs" fill="#231f20">+</text>
<text x="208.09" y="211" font-size="10.61" textLength="24.67" lengthAdjust="spacingAndGlyphs" fill="#231f20">IL-7R</text>
<text x="232.31" y="207" font-size="4.8" textLength="8.94" lengthAdjust="spacingAndGlyphs" fill="#231f20">-/lo</text>
<line x1="116.9" y1="276.4" x2="255.7" y2="276.4" stroke="#231f20" stroke-width="1.2"/>
<path d="M254.2 274.3 L259.2 276.4 L254.2 278.5 Z" fill="#231f20" stroke="none" stroke-width="0" stroke-linejoin="round"/>
<text x="158.8" y="287.1" font-size="10.61" textLength="54.14" lengthAdjust="spacingAndGlyphs" fill="#231f20">Cell trace violet</text>
<rect x="105.7" y="297" width="6.7" height="6.7" fill="none" stroke="#b3143f" stroke-width="1.2"/>
<text x="115.15" y="302.9" font-size="8.14" textLength="21.15" lengthAdjust="spacingAndGlyphs" fill="#231f20">Day 0</text>
<rect x="146.2" y="297" width="6.9" height="7.3" fill="#2d4b80"/>
<text x="155.75" y="302.9" font-size="8.14" textLength="21.17" lengthAdjust="spacingAndGlyphs" fill="#231f20">Day 2</text>
<rect x="189" y="297" width="6.8" height="7.3" fill="#69a84a"/>
<text x="198.45" y="302.9" font-size="8.14" textLength="21.09" lengthAdjust="spacingAndGlyphs" fill="#231f20">Day 5</text>
<rect x="229.3" y="297" width="7.1" height="7.3" fill="#522668"/>
<text x="238.95" y="302.9" font-size="8.14" textLength="21.07" lengthAdjust="spacingAndGlyphs" fill="#231f20">Day 7</text>
<line x1="321.6" y1="282" x2="321.6" y2="204.2" stroke="#231f20" stroke-width="1.3"/>
<line x1="318.3" y1="281.4" x2="321.6" y2="281.4" stroke="#231f20" stroke-width="1.1"/>
<text x="310.64" y="284.15" font-size="8.58" textLength="4.77" lengthAdjust="spacingAndGlyphs" fill="#231f20">0</text>
<line x1="318.3" y1="262.7" x2="321.6" y2="262.7" stroke="#231f20" stroke-width="1.1"/>
<text x="303.52" y="265.45" font-size="8.58" textLength="11.92" lengthAdjust="spacingAndGlyphs" fill="#231f20">0.5</text>
<line x1="318.3" y1="244" x2="321.6" y2="244" stroke="#231f20" stroke-width="1.1"/>
<text x="303.48" y="246.75" font-size="8.58" textLength="11.92" lengthAdjust="spacingAndGlyphs" fill="#231f20">1.0</text>
<line x1="318.3" y1="225.3" x2="321.6" y2="225.3" stroke="#231f20" stroke-width="1.1"/>
<text x="303.52" y="228.05" font-size="8.58" textLength="11.92" lengthAdjust="spacingAndGlyphs" fill="#231f20">1.5</text>
<line x1="318.3" y1="206.6" x2="321.6" y2="206.6" stroke="#231f20" stroke-width="1.1"/>
<text x="303.48" y="209.35" font-size="8.58" textLength="11.92" lengthAdjust="spacingAndGlyphs" fill="#231f20">2.0</text>
<line x1="319.8" y1="272.05" x2="321.6" y2="272.05" stroke="#231f20" stroke-width="1.1"/>
<line x1="319.8" y1="253.35" x2="321.6" y2="253.35" stroke="#231f20" stroke-width="1.1"/>
<line x1="319.8" y1="234.65" x2="321.6" y2="234.65" stroke="#231f20" stroke-width="1.1"/>
<line x1="319.8" y1="215.95" x2="321.6" y2="215.95" stroke="#231f20" stroke-width="1.1"/>
<line x1="343.2" y1="224.5" x2="343.2" y2="229" stroke="#231f20" stroke-width="1.2"/>
<line x1="340.7" y1="224.5" x2="345.7" y2="224.5" stroke="#231f20" stroke-width="1.2"/>
<line x1="357.6" y1="208.7" x2="357.6" y2="218.1" stroke="#231f20" stroke-width="1.2"/>
<line x1="355.1" y1="208.7" x2="360.1" y2="208.7" stroke="#231f20" stroke-width="1.2"/>
<line x1="372.2" y1="221.6" x2="372.2" y2="226.4" stroke="#231f20" stroke-width="1.2"/>
<line x1="369.7" y1="221.6" x2="374.7" y2="221.6" stroke="#231f20" stroke-width="1.2"/>
<rect x="323.9" y="244.1" width="9.7" height="37.3" fill="#a50a2d"/>
<rect x="338.2" y="228" width="9.7" height="53.4" fill="#2d4b80"/>
<rect x="352.8" y="217.1" width="9.4" height="64.3" fill="#69a84a"/>
<rect x="367.1" y="225.4" width="9.7" height="56" fill="#522668"/>
<line x1="321" y1="281.4" x2="380.5" y2="281.4" stroke="#231f20" stroke-width="1.3"/>
<line x1="328.6" y1="281.4" x2="328.6" y2="284.5" stroke="#231f20" stroke-width="1.1"/>
<text x="326.2" y="295.3" font-size="8.58" textLength="4.77" lengthAdjust="spacingAndGlyphs" fill="#231f20">0</text>
<line x1="343.1" y1="281.4" x2="343.1" y2="284.5" stroke="#231f20" stroke-width="1.1"/>
<text x="340.72" y="295.3" font-size="8.58" textLength="4.77" lengthAdjust="spacingAndGlyphs" fill="#231f20">2</text>
<line x1="357.6" y1="281.4" x2="357.6" y2="284.5" stroke="#231f20" stroke-width="1.1"/>
<text x="355.22" y="295.3" font-size="8.58" textLength="4.77" lengthAdjust="spacingAndGlyphs" fill="#231f20">5</text>
<line x1="371.8" y1="281.4" x2="371.8" y2="284.5" stroke="#231f20" stroke-width="1.1"/>
<text x="369.42" y="295.3" font-size="8.58" textLength="4.77" lengthAdjust="spacingAndGlyphs" fill="#231f20">7</text>
<text x="342.1" y="309" font-size="10.03" textLength="17.15" lengthAdjust="spacingAndGlyphs" fill="#231f20">Days</text>
<line x1="327.8" y1="196.5" x2="370.8" y2="196.5" stroke="#231f20" stroke-width="1.2"/>
<path d="M346.3 193.1L346.3 191.85M346.3 193.1L347.49 192.71M346.3 193.1L347.03 194.11M346.3 193.1L345.57 194.11M346.3 193.1L345.11 192.71" stroke="#231f20" stroke-width="0.95" stroke-linecap="round"/>
<path d="M349.6 193.1L349.6 191.85M349.6 193.1L350.79 192.71M349.6 193.1L350.33 194.11M349.6 193.1L348.87 194.11M349.6 193.1L348.41 192.71" stroke="#231f20" stroke-width="0.95" stroke-linecap="round"/>
<path d="M352.9 193.1L352.9 191.85M352.9 193.1L354.09 192.71M352.9 193.1L353.63 194.11M352.9 193.1L352.17 194.11M352.9 193.1L351.71 192.71" stroke="#231f20" stroke-width="0.95" stroke-linecap="round"/>
<line x1="327.8" y1="203.2" x2="356.6" y2="203.2" stroke="#231f20" stroke-width="1.2"/>
<path d="M340.65 199.8L340.65 198.55M340.65 199.8L341.84 199.41M340.65 199.8L341.38 200.81M340.65 199.8L339.92 200.81M340.65 199.8L339.46 199.41" stroke="#231f20" stroke-width="0.95" stroke-linecap="round"/>
<path d="M343.95 199.8L343.95 198.55M343.95 199.8L345.14 199.41M343.95 199.8L344.68 200.81M343.95 199.8L343.22 200.81M343.95 199.8L342.76 199.41" stroke="#231f20" stroke-width="0.95" stroke-linecap="round"/>
<line x1="327.8" y1="210.4" x2="342.1" y2="210.4" stroke="#231f20" stroke-width="1.2"/>
<path d="M333.45 206.7L333.45 205.45M333.45 206.7L334.64 206.31M333.45 206.7L334.18 207.71M333.45 206.7L332.72 207.71M333.45 206.7L332.26 206.31" stroke="#231f20" stroke-width="0.95" stroke-linecap="round"/>
<path d="M336.75 206.7L336.75 205.45M336.75 206.7L337.94 206.31M336.75 206.7L337.48 207.71M336.75 206.7L336.02 207.71M336.75 206.7L335.56 206.31" stroke="#231f20" stroke-width="0.95" stroke-linecap="round"/>
<text transform="translate(285.9,279.2) rotate(-90)" x="-0.65" y="0" font-size="9.88" textLength="74.39" lengthAdjust="spacingAndGlyphs" fill="#231f20">Relative proliferation</text>
<g transform="translate(296.3,269.7) rotate(-90)">
<text x="-0.48" y="0" font-size="9.59" textLength="22.08" lengthAdjust="spacingAndGlyphs" fill="#231f20">(IL-7R</text>
<text x="21.6" y="-3.84" font-size="5.95" textLength="2.88" lengthAdjust="spacingAndGlyphs" fill="#231f20">+</text>
<text x="24.48" y="0" font-size="9.59" textLength="21.64" lengthAdjust="spacingAndGlyphs" fill="#231f20">/IL-7R</text>
<text x="46.11" y="-3.84" font-size="5.95" textLength="6.84" lengthAdjust="spacingAndGlyphs" fill="#231f20">-/lo</text>
<text x="52.95" y="0" font-size="9.59" textLength="2.65" lengthAdjust="spacingAndGlyphs" fill="#231f20">)</text>
</g>
<rect x="417.2" y="194.3" width="5.7" height="5.7" fill="#2d4b80"/>
<text x="426.05" y="200" font-size="8.14" textLength="17.78" lengthAdjust="spacingAndGlyphs" fill="#231f20">IL-7R</text>
<text x="443.54" y="196.5" font-size="4.07" textLength="3.01" lengthAdjust="spacingAndGlyphs" fill="#231f20">+</text>
<rect x="458" y="194.3" width="5.8" height="5.7" fill="#a50a2d"/>
<text x="466.24" y="200" font-size="8.14" textLength="18" lengthAdjust="spacingAndGlyphs" fill="#231f20">IL-7R</text>
<text x="484.02" y="196.5" font-size="4.07" textLength="8.52" lengthAdjust="spacingAndGlyphs" fill="#231f20">-/lo</text>
<line x1="426.6" y1="282.2" x2="426.6" y2="205.68" stroke="#231f20" stroke-width="1.3"/>
<line x1="423.3" y1="281.6" x2="426.6" y2="281.6" stroke="#231f20" stroke-width="1.1"/>
<text x="415.61" y="284.5" font-size="9.01" textLength="5.01" lengthAdjust="spacingAndGlyphs" fill="#231f20">0</text>
<line x1="423.3" y1="263.22" x2="426.6" y2="263.22" stroke="#231f20" stroke-width="1.1"/>
<text x="410.61" y="266.12" font-size="9.01" textLength="10.02" lengthAdjust="spacingAndGlyphs" fill="#231f20">10</text>
<line x1="423.3" y1="244.84" x2="426.6" y2="244.84" stroke="#231f20" stroke-width="1.1"/>
<text x="410.61" y="247.74" font-size="9.01" textLength="10.02" lengthAdjust="spacingAndGlyphs" fill="#231f20">20</text>
<line x1="423.3" y1="226.46" x2="426.6" y2="226.46" stroke="#231f20" stroke-width="1.1"/>
<text x="410.61" y="229.36" font-size="9.01" textLength="10.02" lengthAdjust="spacingAndGlyphs" fill="#231f20">30</text>
<line x1="423.3" y1="208.08" x2="426.6" y2="208.08" stroke="#231f20" stroke-width="1.1"/>
<text x="410.61" y="210.98" font-size="9.01" textLength="10.02" lengthAdjust="spacingAndGlyphs" fill="#231f20">40</text>
<line x1="424.8" y1="272.41" x2="426.6" y2="272.41" stroke="#231f20" stroke-width="1.1"/>
<line x1="424.8" y1="254.03" x2="426.6" y2="254.03" stroke="#231f20" stroke-width="1.1"/>
<line x1="424.8" y1="235.65" x2="426.6" y2="235.65" stroke="#231f20" stroke-width="1.1"/>
<line x1="424.8" y1="217.27" x2="426.6" y2="217.27" stroke="#231f20" stroke-width="1.1"/>
<line x1="426" y1="281.6" x2="482.5" y2="281.6" stroke="#231f20" stroke-width="1.3"/>
<line x1="433.5" y1="281.6" x2="433.5" y2="284.6" stroke="#231f20" stroke-width="1.2"/>
<line x1="447.8" y1="281.6" x2="447.8" y2="284.6" stroke="#231f20" stroke-width="1.2"/>
<line x1="461.6" y1="281.6" x2="461.6" y2="284.6" stroke="#231f20" stroke-width="1.2"/>
<line x1="475.6" y1="281.6" x2="475.6" y2="284.6" stroke="#231f20" stroke-width="1.2"/>
<text transform="translate(437.5,291) rotate(-45)" x="-4.81" y="0" font-size="8.65" textLength="4.81" lengthAdjust="spacingAndGlyphs" fill="#231f20">0</text>
<text transform="translate(451.5,291) rotate(-45)" x="-9.62" y="0" font-size="8.65" textLength="9.62" lengthAdjust="spacingAndGlyphs" fill="#231f20">50</text>
<text transform="translate(465.5,291) rotate(-45)" x="-14.43" y="0" font-size="8.65" textLength="14.43" lengthAdjust="spacingAndGlyphs" fill="#231f20">100</text>
<text transform="translate(479,290.8) rotate(-45)" x="-14.43" y="0" font-size="8.65" textLength="14.43" lengthAdjust="spacingAndGlyphs" fill="#231f20">200</text>
<text transform="translate(405.8,264.6) rotate(-90)" x="-0.37" y="0" font-size="10.76" textLength="44.88" lengthAdjust="spacingAndGlyphs" fill="#231f20">S+G2/M (%)</text>
<text x="434.42" y="315" font-size="10.17" textLength="40.52" lengthAdjust="spacingAndGlyphs" fill="#231f20">[IL-7] IU/ml</text>
<line x1="433.5" y1="246.5" x2="433.5" y2="255" stroke="#2d4b80" stroke-width="1.1"/>
<line x1="431.3" y1="246.5" x2="435.7" y2="246.5" stroke="#2d4b80" stroke-width="1.1"/>
<line x1="431.3" y1="255" x2="435.7" y2="255" stroke="#2d4b80" stroke-width="1.1"/>
<line x1="447.8" y1="221.8" x2="447.8" y2="233.5" stroke="#2d4b80" stroke-width="1.1"/>
<line x1="445.6" y1="221.8" x2="450" y2="221.8" stroke="#2d4b80" stroke-width="1.1"/>
<line x1="445.6" y1="233.5" x2="450" y2="233.5" stroke="#2d4b80" stroke-width="1.1"/>
<line x1="461.6" y1="217.6" x2="461.6" y2="227.1" stroke="#2d4b80" stroke-width="1.1"/>
<line x1="459.4" y1="217.6" x2="463.8" y2="217.6" stroke="#2d4b80" stroke-width="1.1"/>
<line x1="459.4" y1="227.1" x2="463.8" y2="227.1" stroke="#2d4b80" stroke-width="1.1"/>
<line x1="475.6" y1="209.1" x2="475.6" y2="222.9" stroke="#2d4b80" stroke-width="1.1"/>
<line x1="473.4" y1="209.1" x2="477.8" y2="209.1" stroke="#2d4b80" stroke-width="1.1"/>
<line x1="473.4" y1="222.9" x2="477.8" y2="222.9" stroke="#2d4b80" stroke-width="1.1"/>
<path d="M433.5 251.2 L447.8 227.8 L461.6 221.8 L475.6 216.1" fill="none" stroke="#2d4b80" stroke-width="1.7" stroke-linejoin="round"/>
<rect x="431.45" y="249.15" width="4.1" height="4.1" fill="#2d4b80"/>
<rect x="445.75" y="225.75" width="4.1" height="4.1" fill="#2d4b80"/>
<rect x="459.55" y="219.75" width="4.1" height="4.1" fill="#2d4b80"/>
<rect x="473.55" y="214.05" width="4.1" height="4.1" fill="#2d4b80"/>
<line x1="433.5" y1="257" x2="433.5" y2="269.1" stroke="#a50a2d" stroke-width="1.1"/>
<line x1="431.3" y1="257" x2="435.7" y2="257" stroke="#a50a2d" stroke-width="1.1"/>
<line x1="431.3" y1="269.1" x2="435.7" y2="269.1" stroke="#a50a2d" stroke-width="1.1"/>
<line x1="447.8" y1="247.3" x2="447.8" y2="262.4" stroke="#a50a2d" stroke-width="1.1"/>
<line x1="445.6" y1="247.3" x2="450" y2="247.3" stroke="#a50a2d" stroke-width="1.1"/>
<line x1="445.6" y1="262.4" x2="450" y2="262.4" stroke="#a50a2d" stroke-width="1.1"/>
<line x1="461.6" y1="244.4" x2="461.6" y2="259" stroke="#a50a2d" stroke-width="1.1"/>
<line x1="459.4" y1="244.4" x2="463.8" y2="244.4" stroke="#a50a2d" stroke-width="1.1"/>
<line x1="459.4" y1="259" x2="463.8" y2="259" stroke="#a50a2d" stroke-width="1.1"/>
<line x1="475.6" y1="236.3" x2="475.6" y2="255" stroke="#a50a2d" stroke-width="1.1"/>
<line x1="473.4" y1="236.3" x2="477.8" y2="236.3" stroke="#a50a2d" stroke-width="1.1"/>
<line x1="473.4" y1="255" x2="477.8" y2="255" stroke="#a50a2d" stroke-width="1.1"/>
<path d="M433.5 263.2 L447.8 255 L461.6 251.6 L475.6 245.9" fill="none" stroke="#a50a2d" stroke-width="1.7" stroke-linejoin="round"/>
<rect x="431.45" y="261.15" width="4.1" height="4.1" fill="#a50a2d"/>
<rect x="445.75" y="252.95" width="4.1" height="4.1" fill="#a50a2d"/>
<rect x="459.55" y="249.55" width="4.1" height="4.1" fill="#a50a2d"/>
<rect x="473.55" y="243.85" width="4.1" height="4.1" fill="#a50a2d"/>
<path d="M447.9 243.6L447.9 242M447.9 243.6L449.42 243.11M447.9 243.6L448.84 244.89M447.9 243.6L446.96 244.89M447.9 243.6L446.38 243.11" stroke="#231f20" stroke-width="1.05" stroke-linecap="round"/>
<path d="M459.95 239.5L459.95 238.25M459.95 239.5L461.14 239.11M459.95 239.5L460.68 240.51M459.95 239.5L459.22 240.51M459.95 239.5L458.76 239.11" stroke="#231f20" stroke-width="0.95" stroke-linecap="round"/>
<path d="M463.25 239.5L463.25 238.25M463.25 239.5L464.44 239.11M463.25 239.5L463.98 240.51M463.25 239.5L462.52 240.51M463.25 239.5L462.06 239.11" stroke="#231f20" stroke-width="0.95" stroke-linecap="round"/>
<path d="M473.95 232.5L473.95 231.25M473.95 232.5L475.14 232.11M473.95 232.5L474.68 233.51M473.95 232.5L473.22 233.51M473.95 232.5L472.76 232.11" stroke="#231f20" stroke-width="0.95" stroke-linecap="round"/>
<path d="M477.25 232.5L477.25 231.25M477.25 232.5L478.44 232.11M477.25 232.5L477.98 233.51M477.25 232.5L476.52 233.51M477.25 232.5L476.06 232.11" stroke="#231f20" stroke-width="0.95" stroke-linecap="round"/>
<text x="66.3" y="344.9" font-size="8.14" textLength="27.38" lengthAdjust="spacingAndGlyphs" fill="#231f20">Patient</text>
<text x="121.73" y="344.9" font-size="7.85" textLength="3.45" lengthAdjust="spacingAndGlyphs" fill="#231f20">1</text>
<text x="125.75" y="342.4" font-size="3.63" textLength="3.99" lengthAdjust="spacingAndGlyphs" fill="#231f20">st</text>
<text x="132.24" y="344.9" font-size="8.28" textLength="18.01" lengthAdjust="spacingAndGlyphs" fill="#231f20">graft</text>
<text x="175.57" y="344.9" font-size="7.85" textLength="4.77" lengthAdjust="spacingAndGlyphs" fill="#231f20">2</text>
<text x="179.9" y="342.4" font-size="3.63" textLength="6.81" lengthAdjust="spacingAndGlyphs" fill="#231f20">nd</text>
<text x="188.64" y="344.9" font-size="8.28" textLength="17.81" lengthAdjust="spacingAndGlyphs" fill="#231f20">graft</text>
<text x="7.34" y="376.25" font-size="8.87" textLength="25.98" lengthAdjust="spacingAndGlyphs" fill="#231f20">T-ALL5</text>
<text x="7.34" y="429.3" font-size="8.87" textLength="25.98" lengthAdjust="spacingAndGlyphs" fill="#231f20">T-ALL8</text>
<text x="7.34" y="482.5" font-size="8.87" textLength="26.02" lengthAdjust="spacingAndGlyphs" fill="#231f20">T-ALL9</text>
<text transform="translate(45.6,502.8) rotate(-90)" x="-0.38" y="0" font-size="10.9" textLength="37.56" lengthAdjust="spacingAndGlyphs" fill="#231f20">Cell counts</text>
<line x1="51.3" y1="503.6" x2="51.3" y2="352.3" stroke="#231f20" stroke-width="1.2"/>
<path d="M49.2 353.8 L51.3 348.8 L53.4 353.8 Z" fill="#231f20" stroke="none" stroke-width="0" stroke-linejoin="round"/>
<line x1="55.5" y1="507.9" x2="211.5" y2="507.9" stroke="#231f20" stroke-width="1.2"/>
<path d="M210 505.8 L215 507.9 L210 510 Z" fill="#231f20" stroke="none" stroke-width="0" stroke-linejoin="round"/>
<text x="54.81" y="520" font-size="10.76" textLength="18.79" lengthAdjust="spacingAndGlyphs" fill="#231f20">IL-7R</text>
<clipPath id="gc00"><rect x="55.5" y="348.8" width="49.4" height="49"/></clipPath>
<g clip-path="url(#gc00)">
<path d="M55.6 397.8 L55.6 393.5 L61.5 388.8 L65 377.3 L67.3 362.3 L68.5 356 L70.2 368 L71.9 383 L73.6 395.8 L74.5 397.8 L74.5 397.8 Z" fill="#c7c7c9" stroke="none" stroke-width="0" stroke-linejoin="round"/>
<path d="M55.5 396.3 L56.36 396.06 L57.21 395.81 L58.07 395.57 L58.93 395.33 L59.79 395.16 L60.64 394.85 L61.5 394.6 L62.38 393.53 L63.25 392.45 L64.12 390.71 L65 390 L65.97 387.78 L66.93 384.94 L67.9 381.9 L68.75 378.3 L69.6 373.8 L70.8 372.1 L71.95 371.91 L73.1 371 L74.2 369.8 L75.4 365.8 L76.5 364 L77.9 360.6 L79.4 362.9 L80.6 373.8 L81.7 384.2 L82.85 388.72 L84 393.5 L84.97 394.72 L85.93 396.03 L86.9 397.3 L87.72 397.3 L88.54 397.3 L89.35 397.3 L90.17 397.3 L90.99 397.3 L91.81 397.3 L92.63 397.3 L93.45 397.3 L94.26 397.3 L95.08 397.3 L95.9 397.3 L96.72 397.3 L97.54 397.3 L98.35 397.3 L99.17 397.3 L99.99 397.3 L100.81 397.3 L101.63 397.3 L102.45 397.3 L103.26 397.3 L104.08 397.3 L104.9 397.3" fill="none" stroke="#b3143f" stroke-width="1.2" stroke-linejoin="round"/>
</g>
<rect x="55.5" y="348.8" width="49.4" height="49" fill="none" stroke="#231f20" stroke-width="1.4"/>
<text x="93.96" y="359.5" font-size="8.72" textLength="9.4" lengthAdjust="spacingAndGlyphs" fill="#231f20">58</text>
<clipPath id="gc01"><rect x="111.5" y="348.8" width="48.9" height="49"/></clipPath>
<g clip-path="url(#gc01)">
<path d="M111.8 397.8 L111.8 396 L115 390 L118 378 L120 366 L121.25 359.5 L122.5 364 L124 375 L125.3 388 L126.5 397.5 L126.5 397.8 Z" fill="#c7c7c9" stroke="none" stroke-width="0" stroke-linejoin="round"/>
<path d="M111.6 397.3 L112.45 397.23 L113.3 397.15 L114.15 397.07 L115 397 L115.83 396.33 L116.67 395.67 L117.5 395 L118.38 393.77 L119.25 393.1 L120.12 391.62 L121 391 L122 388.81 L123 387.32 L124 386 L124.88 384.09 L125.75 382.81 L126.62 380.96 L127.5 380 L128.5 374.4 L129.5 370 L130.8 363 L132 360.5 L133.2 362 L134 370 L135 380 L136.5 390 L137.62 393.43 L138.75 397.3 L139.55 397.3 L140.35 397.3 L141.16 397.3 L141.96 397.3 L142.76 397.3 L143.56 397.3 L144.36 397.3 L145.16 397.3 L145.97 397.3 L146.77 397.3 L147.57 397.3 L148.37 397.3 L149.17 397.3 L149.98 397.3 L150.78 397.3 L151.58 397.3 L152.38 397.3 L153.18 397.3 L153.99 397.3 L154.79 397.3 L155.59 397.3 L156.39 397.3 L157.19 397.3 L157.99 397.3 L158.8 397.3 L159.6 397.3 L160.4 397.3" fill="none" stroke="#b3143f" stroke-width="1.2" stroke-linejoin="round"/>
</g>
<rect x="111.5" y="348.8" width="48.9" height="49" fill="none" stroke="#231f20" stroke-width="1.4"/>
<text x="149.37" y="359.5" font-size="8.72" textLength="9.53" lengthAdjust="spacingAndGlyphs" fill="#231f20">71</text>
<clipPath id="gc02"><rect x="166.8" y="348.8" width="48.8" height="49"/></clipPath>
<g clip-path="url(#gc02)">
<path d="M166.8 397.8 L166.8 392 L170 388 L172.5 378 L174.5 367 L176.25 361.25 L177.5 364 L178.5 375 L179.5 388 L180.5 397.5 L180.5 397.8 Z" fill="#c7c7c9" stroke="none" stroke-width="0" stroke-linejoin="round"/>
<path d="M166.8 397 L167.87 396.67 L168.93 396.33 L170 396 L170.8 395.4 L171.6 394.62 L172.4 394.13 L173.2 393.3 L174 393 L174.8 392.14 L175.6 390.72 L176.4 388.98 L177.2 387.9 L178 387 L179 384.48 L180 382.17 L181 380 L181.83 376.21 L182.67 373.75 L183.5 370 L185 362 L186.25 358.25 L187.3 360 L188 366 L188.75 372.5 L189.62 379.34 L190.5 385 L192 393 L192.88 395.14 L193.75 397.3 L194.56 397.3 L195.37 397.3 L196.18 397.3 L196.99 397.3 L197.8 397.3 L198.61 397.3 L199.41 397.3 L200.22 397.3 L201.03 397.3 L201.84 397.3 L202.65 397.3 L203.46 397.3 L204.27 397.3 L205.08 397.3 L205.89 397.3 L206.7 397.3 L207.51 397.3 L208.32 397.3 L209.13 397.3 L209.94 397.3 L210.74 397.3 L211.55 397.3 L212.36 397.3 L213.17 397.3 L213.98 397.3 L214.79 397.3 L215.6 397.3" fill="none" stroke="#b3143f" stroke-width="1.2" stroke-linejoin="round"/>
</g>
<rect x="166.8" y="348.8" width="48.8" height="49" fill="none" stroke="#231f20" stroke-width="1.4"/>
<text x="204.62" y="359.5" font-size="8.72" textLength="9.4" lengthAdjust="spacingAndGlyphs" fill="#231f20">80</text>
<clipPath id="gc10"><rect x="55.5" y="402.5" width="49.4" height="48.1"/></clipPath>
<g clip-path="url(#gc10)">
<path d="M55.6 450.6 L55.6 447 L58 440 L61 430 L63.5 420 L66.25 412.5 L67.5 416 L69 425 L70.5 440 L71.25 450.5 L71.25 450.6 Z" fill="#c7c7c9" stroke="none" stroke-width="0" stroke-linejoin="round"/>
<path d="M55.5 443.75 L56.33 441.81 L57.17 439.42 L58 438 L59 433.52 L60 430 L60.83 427.14 L61.67 424.38 L62.5 422 L63.5 419.89 L64.5 417 L65.38 414.97 L66.25 413.75 L67.5 417 L68.5 425 L70 433.75 L71 433.3 L72 434 L73 434.04 L74 433 L75 432.5 L76 432.53 L77 432.08 L78 432.5 L79 438 L80.5 446 L82 450.1 L82.82 450.1 L83.64 450.1 L84.45 450.1 L85.27 450.1 L86.09 450.1 L86.91 450.1 L87.72 450.1 L88.54 450.1 L89.36 450.1 L90.18 450.1 L91 450.1 L91.81 450.1 L92.63 450.1 L93.45 450.1 L94.27 450.1 L95.09 450.1 L95.9 450.1 L96.72 450.1 L97.54 450.1 L98.36 450.1 L99.18 450.1 L99.99 450.1 L100.81 450.1 L101.63 450.1 L102.45 450.1 L103.26 450.1 L104.08 450.1 L104.9 450.1" fill="none" stroke="#b3143f" stroke-width="1.2" stroke-linejoin="round"/>
</g>
<rect x="55.5" y="402.5" width="49.4" height="48.1" fill="none" stroke="#231f20" stroke-width="1.4"/>
<text x="93.87" y="413.2" font-size="8.72" textLength="9.53" lengthAdjust="spacingAndGlyphs" fill="#231f20">29</text>
<clipPath id="gc11"><rect x="111.5" y="402.5" width="48.9" height="48.1"/></clipPath>
<g clip-path="url(#gc11)">
<path d="M111.8 450.6 L111.8 450 L114 447 L117 440 L119.5 428 L121 418 L122 411.25 L123 416 L124.5 430 L125.5 442 L126.25 450.5 L126.25 450.6 Z" fill="#c7c7c9" stroke="none" stroke-width="0" stroke-linejoin="round"/>
<path d="M111.6 448.75 L112.45 448.08 L113.3 447.15 L114.15 446.7 L115 446 L115.94 444.36 L116.88 442.19 L117.81 439.86 L118.75 437.5 L119.62 433.46 L120.5 430 L121.5 426.09 L122.5 422.5 L124 418 L125 415 L125.8 413 L126.25 412.5 L127 416 L128 413 L128.75 417.5 L129.62 417.73 L130.5 418.75 L131.5 424 L132.5 430 L133.5 436 L135 442.5 L135.83 445.26 L136.67 447.58 L137.5 450.1 L138.32 450.1 L139.14 450.1 L139.95 450.1 L140.77 450.1 L141.59 450.1 L142.41 450.1 L143.22 450.1 L144.04 450.1 L144.86 450.1 L145.68 450.1 L146.5 450.1 L147.31 450.1 L148.13 450.1 L148.95 450.1 L149.77 450.1 L150.59 450.1 L151.4 450.1 L152.22 450.1 L153.04 450.1 L153.86 450.1 L154.68 450.1 L155.49 450.1 L156.31 450.1 L157.13 450.1 L157.95 450.1 L158.76 450.1 L159.58 450.1 L160.4 450.1" fill="none" stroke="#b3143f" stroke-width="1.2" stroke-linejoin="round"/>
</g>
<rect x="111.5" y="402.5" width="48.9" height="48.1" fill="none" stroke="#231f20" stroke-width="1.4"/>
<text x="149.64" y="413.2" font-size="8.72" textLength="9.13" lengthAdjust="spacingAndGlyphs" fill="#231f20">44</text>
<clipPath id="gc12"><rect x="166.8" y="402.5" width="48.8" height="48.1"/></clipPath>
<g clip-path="url(#gc12)">
<path d="M166.8 450.6 L166.8 437.5 L169 433 L171.5 425 L173.5 415 L175 411.25 L176.5 414 L178 425 L179.5 440 L180.5 450.5 L180.5 450.6 Z" fill="#c7c7c9" stroke="none" stroke-width="0" stroke-linejoin="round"/>
<path d="M166.8 448.75 L167.87 448.33 L168.93 448.03 L170 447.5 L170.83 446.99 L171.67 446.5 L172.5 446.45 L173.33 446.18 L174.17 445.69 L175 445 L176 444.3 L177 443.36 L178 442 L179 440.04 L180 437.5 L181 433.42 L182 430 L182.88 426.27 L183.75 422.5 L185 418.75 L186 415 L187.5 410.5 L188.5 412 L189.5 420 L190.3 432 L191.25 445 L192.12 447.48 L193 450.1 L193.81 450.1 L194.61 450.1 L195.42 450.1 L196.23 450.1 L197.04 450.1 L197.84 450.1 L198.65 450.1 L199.46 450.1 L200.26 450.1 L201.07 450.1 L201.88 450.1 L202.69 450.1 L203.49 450.1 L204.3 450.1 L205.11 450.1 L205.91 450.1 L206.72 450.1 L207.53 450.1 L208.34 450.1 L209.14 450.1 L209.95 450.1 L210.76 450.1 L211.56 450.1 L212.37 450.1 L213.18 450.1 L213.99 450.1 L214.79 450.1 L215.6 450.1" fill="none" stroke="#b3143f" stroke-width="1.2" stroke-linejoin="round"/>
</g>
<rect x="166.8" y="402.5" width="48.8" height="48.1" fill="none" stroke="#231f20" stroke-width="1.4"/>
<text x="204.57" y="413.2" font-size="8.72" textLength="9.58" lengthAdjust="spacingAndGlyphs" fill="#231f20">72</text>
<clipPath id="gc20"><rect x="55.5" y="454.9" width="49.4" height="48.5"/></clipPath>
<g clip-path="url(#gc20)">
<path d="M55.6 503.4 L55.6 500 L58 497 L60.5 490 L63 477 L65.5 468 L67.5 463.75 L69 468 L70.5 478 L71.5 490 L72.5 500 L73.5 503.4 L73.5 503.4 Z" fill="#c7c7c9" stroke="none" stroke-width="0" stroke-linejoin="round"/>
<path d="M55.5 498.75 L56.33 497.8 L57.17 497.17 L58 497 L59 495.76 L60 495 L61.5 488 L63 477.5 L64 473.46 L65 470 L66.5 466 L68 465 L69.5 469 L71 477.5 L72 488 L73 495 L74 496.46 L75 497.5 L76 498.6 L77 499 L78.5 500 L80 502.9 L80.8 502.9 L81.61 502.9 L82.41 502.9 L83.21 502.9 L84.02 502.9 L84.82 502.9 L85.62 502.9 L86.43 502.9 L87.23 502.9 L88.03 502.9 L88.84 502.9 L89.64 502.9 L90.44 502.9 L91.25 502.9 L92.05 502.9 L92.85 502.9 L93.65 502.9 L94.46 502.9 L95.26 502.9 L96.06 502.9 L96.87 502.9 L97.67 502.9 L98.47 502.9 L99.28 502.9 L100.08 502.9 L100.88 502.9 L101.69 502.9 L102.49 502.9 L103.29 502.9 L104.1 502.9 L104.9 502.9" fill="none" stroke="#b3143f" stroke-width="1.2" stroke-linejoin="round"/>
</g>
<rect x="55.5" y="454.9" width="49.4" height="48.5" fill="none" stroke="#231f20" stroke-width="1.4"/>
<text x="98.56" y="465.6" font-size="8.72" textLength="4.89" lengthAdjust="spacingAndGlyphs" fill="#231f20">7</text>
<clipPath id="gc21"><rect x="111.5" y="454.9" width="48.9" height="48.5"/></clipPath>
<g clip-path="url(#gc21)">
<path d="M111.8 503.4 L111.8 490 L113 478 L114.5 470 L115.5 468.75 L117 473 L118.5 482 L119.5 495 L120.5 503.4 L120.5 503.4 Z" fill="#c7c7c9" stroke="none" stroke-width="0" stroke-linejoin="round"/>
<path d="M111.6 487.5 L113 476 L114.5 467.5 L115.5 465.75 L116.5 468 L117.5 467 L118.75 468.75 L120 474 L121.25 480 L122.12 482.44 L123 485 L124 488.02 L125 490 L126 493.09 L127 495 L127.88 497.9 L128.75 500 L129.58 500.97 L130.42 501.93 L131.25 502.9 L132.06 502.9 L132.87 502.9 L133.68 502.9 L134.49 502.9 L135.3 502.9 L136.11 502.9 L136.92 502.9 L137.73 502.9 L138.54 502.9 L139.35 502.9 L140.16 502.9 L140.97 502.9 L141.78 502.9 L142.59 502.9 L143.4 502.9 L144.21 502.9 L145.02 502.9 L145.82 502.9 L146.63 502.9 L147.44 502.9 L148.25 502.9 L149.06 502.9 L149.87 502.9 L150.68 502.9 L151.49 502.9 L152.3 502.9 L153.11 502.9 L153.92 502.9 L154.73 502.9 L155.54 502.9 L156.35 502.9 L157.16 502.9 L157.97 502.9 L158.78 502.9 L159.59 502.9 L160.4 502.9" fill="none" stroke="#b3143f" stroke-width="1.2" stroke-linejoin="round"/>
</g>
<rect x="111.5" y="454.9" width="48.9" height="48.5" fill="none" stroke="#231f20" stroke-width="1.4"/>
<text x="149.37" y="465.6" font-size="8.72" textLength="9.53" lengthAdjust="spacingAndGlyphs" fill="#231f20">29</text>
<clipPath id="gc22"><rect x="166.8" y="454.9" width="48.8" height="48.5"/></clipPath>
<g clip-path="url(#gc22)">
<path d="M166.8 503.4 L166.8 500 L170 497 L173 490 L175 480 L176.5 470 L177.5 466.25 L178.5 470 L179.5 482 L180.5 495 L181.5 503.4 L181.5 503.4 Z" fill="#c7c7c9" stroke="none" stroke-width="0" stroke-linejoin="round"/>
<path d="M166.8 501 L167.87 500.27 L168.93 499.51 L170 499 L171 498.13 L172 497.41 L173 497 L174 495.67 L175 495 L176 491.15 L177 487 L177.88 482.73 L178.75 477.5 L180 470 L181.25 463.75 L182.5 466 L183.75 470 L185 473 L186.25 475 L187.5 475.5 L188.75 477.5 L189.62 482.16 L190.5 486 L191.5 490.48 L192.5 495 L193.33 497.15 L194.17 499.2 L195 501 L195.83 501.63 L196.67 502.27 L197.5 502.9 L198.32 502.9 L199.15 502.9 L199.97 502.9 L200.79 502.9 L201.61 502.9 L202.44 502.9 L203.26 502.9 L204.08 502.9 L204.9 502.9 L205.73 502.9 L206.55 502.9 L207.37 502.9 L208.2 502.9 L209.02 502.9 L209.84 502.9 L210.66 502.9 L211.49 502.9 L212.31 502.9 L213.13 502.9 L213.95 502.9 L214.78 502.9 L215.6 502.9" fill="none" stroke="#b3143f" stroke-width="1.2" stroke-linejoin="round"/>
</g>
<rect x="166.8" y="454.9" width="48.8" height="48.5" fill="none" stroke="#231f20" stroke-width="1.4"/>
<text x="204.66" y="465.6" font-size="8.72" textLength="9.4" lengthAdjust="spacingAndGlyphs" fill="#231f20">55</text>
<text x="289.81" y="361.7" font-size="10.76" textLength="31.38" lengthAdjust="spacingAndGlyphs" fill="#231f20">T-ALL5</text>
<text x="405" y="362" font-size="10.61" textLength="31.63" lengthAdjust="spacingAndGlyphs" fill="#231f20">T-ALL9</text>
<line x1="270.6" y1="456" x2="270.6" y2="368.5" stroke="#231f20" stroke-width="1.3"/>
<line x1="267.3" y1="455.4" x2="270.6" y2="455.4" stroke="#231f20" stroke-width="1.1"/>
<text x="259.74" y="458.15" font-size="8.58" textLength="4.77" lengthAdjust="spacingAndGlyphs" fill="#231f20">0</text>
<line x1="267.3" y1="438.5" x2="270.6" y2="438.5" stroke="#231f20" stroke-width="1.1"/>
<text x="254.98" y="441.25" font-size="8.58" textLength="9.54" lengthAdjust="spacingAndGlyphs" fill="#231f20">20</text>
<line x1="267.3" y1="421.6" x2="270.6" y2="421.6" stroke="#231f20" stroke-width="1.1"/>
<text x="254.98" y="424.35" font-size="8.58" textLength="9.54" lengthAdjust="spacingAndGlyphs" fill="#231f20">40</text>
<line x1="267.3" y1="404.7" x2="270.6" y2="404.7" stroke="#231f20" stroke-width="1.1"/>
<text x="254.98" y="407.45" font-size="8.58" textLength="9.54" lengthAdjust="spacingAndGlyphs" fill="#231f20">60</text>
<line x1="267.3" y1="387.8" x2="270.6" y2="387.8" stroke="#231f20" stroke-width="1.1"/>
<text x="254.98" y="390.55" font-size="8.58" textLength="9.54" lengthAdjust="spacingAndGlyphs" fill="#231f20">80</text>
<line x1="267.3" y1="370.9" x2="270.6" y2="370.9" stroke="#231f20" stroke-width="1.1"/>
<text x="250.22" y="373.65" font-size="8.58" textLength="14.31" lengthAdjust="spacingAndGlyphs" fill="#231f20">100</text>
<line x1="268.8" y1="455.4" x2="342.7" y2="455.4" stroke="#231f20" stroke-width="1.3"/>
<line x1="278" y1="455.4" x2="278" y2="458" stroke="#231f20" stroke-width="1.1"/>
<line x1="292.3" y1="455.4" x2="292.3" y2="458" stroke="#231f20" stroke-width="1.1"/>
<line x1="306.4" y1="455.4" x2="306.4" y2="458" stroke="#231f20" stroke-width="1.1"/>
<line x1="320.8" y1="455.4" x2="320.8" y2="458" stroke="#231f20" stroke-width="1.1"/>
<line x1="335.2" y1="455.4" x2="335.2" y2="458" stroke="#231f20" stroke-width="1.1"/>
<text transform="translate(281,465.3) rotate(-45)" x="-27.89" y="0" font-size="7.86" textLength="27.89" lengthAdjust="spacingAndGlyphs" fill="#231f20">Patient</text>
<text transform="translate(296,464.5) rotate(-45)" x="-30.52" y="0" font-size="7.92" textLength="30.52" lengthAdjust="spacingAndGlyphs" fill="#231f20">Thymus</text>
<text transform="translate(311,464) rotate(-45)" x="-14.3" y="0" font-size="7.7" textLength="14.3" lengthAdjust="spacingAndGlyphs" fill="#231f20">BM</text>
<text transform="translate(324.5,463.8) rotate(-45)" x="-28" y="0" font-size="7.85" textLength="28" lengthAdjust="spacingAndGlyphs" fill="#231f20">Spleen</text>
<text transform="translate(339,464.2) rotate(-45)" x="-23.8" y="0" font-size="7.7" textLength="23.8" lengthAdjust="spacingAndGlyphs" fill="#231f20">Blood</text>
<g transform="translate(244.1,437.5) rotate(-90)">
<text x="-0.68" y="0" font-size="9.74" textLength="18.61" lengthAdjust="spacingAndGlyphs" fill="#231f20">IL-7R</text>
<text x="17.92" y="-3.9" font-size="6.04" textLength="4.07" lengthAdjust="spacingAndGlyphs" fill="#231f20">+ </text>
<text x="21.99" y="0" font-size="9.74" textLength="31.28" lengthAdjust="spacingAndGlyphs" fill="#231f20"> cells (%)</text>
</g>
<path d="M278.1 411.65L280.25 413.8L278.1 415.95L275.95 413.8Z" fill="#a50a2d"/>
<path d="M292.3 371.15L294.45 373.3L292.3 375.45L290.15 373.3Z" fill="#a50a2d"/>
<path d="M292.3 380.45L294.45 382.6L292.3 384.75L290.15 382.6Z" fill="#a50a2d"/>
<path d="M289.8 373.65L291.95 375.8L289.8 377.95L287.65 375.8Z" fill="#a50a2d"/>
<path d="M294.8 373.85L296.95 376L294.8 378.15L292.65 376Z" fill="#a50a2d"/>
<path d="M292.3 376.85L294.45 379L292.3 381.15L290.15 379Z" fill="#a50a2d"/>
<path d="M291 375.35L293.15 377.5L291 379.65L288.85 377.5Z" fill="#a50a2d"/>
<path d="M309.8 371.15L311.95 373.3L309.8 375.45L307.65 373.3Z" fill="#a50a2d"/>
<path d="M303.7 373.65L305.85 375.8L303.7 377.95L301.55 375.8Z" fill="#a50a2d"/>
<path d="M305.5 377.65L307.65 379.8L305.5 381.95L303.35 379.8Z" fill="#a50a2d"/>
<path d="M307.7 376.45L309.85 378.6L307.7 380.75L305.55 378.6Z" fill="#a50a2d"/>
<path d="M304.3 376.15L306.45 378.3L304.3 380.45L302.15 378.3Z" fill="#a50a2d"/>
<path d="M306.5 375.85L308.65 378L306.5 380.15L304.35 378Z" fill="#a50a2d"/>
<path d="M321.2 375.25L323.35 377.4L321.2 379.55L319.05 377.4Z" fill="#a50a2d"/>
<path d="M318.1 380.15L320.25 382.3L318.1 384.45L315.95 382.3Z" fill="#a50a2d"/>
<path d="M321.2 382.45L323.35 384.6L321.2 386.75L319.05 384.6Z" fill="#a50a2d"/>
<path d="M323.2 381.35L325.35 383.5L323.2 385.65L321.05 383.5Z" fill="#a50a2d"/>
<path d="M321.2 390.15L323.35 392.3L321.2 394.45L319.05 392.3Z" fill="#a50a2d"/>
<path d="M335.5 385.25L337.65 387.4L335.5 389.55L333.35 387.4Z" fill="#a50a2d"/>
<path d="M333 390.45L335.15 392.6L333 394.75L330.85 392.6Z" fill="#a50a2d"/>
<path d="M338.1 396.35L340.25 398.5L338.1 400.65L335.95 398.5Z" fill="#a50a2d"/>
<path d="M333.5 401.25L335.65 403.4L333.5 405.55L331.35 403.4Z" fill="#a50a2d"/>
<path d="M336.1 403.65L338.25 405.8L336.1 407.95L333.95 405.8Z" fill="#a50a2d"/>
<path d="M335.5 405.25L337.65 407.4L335.5 409.55L333.35 407.4Z" fill="#a50a2d"/>
<line x1="273.5" y1="413.8" x2="282.7" y2="413.8" stroke="#231f20" stroke-width="1.7"/>
<line x1="287.4" y1="377.4" x2="297" y2="377.4" stroke="#231f20" stroke-width="1.7"/>
<line x1="292.2" y1="376" x2="292.2" y2="379" stroke="#231f20" stroke-width="1.1"/>
<line x1="290.4" y1="376" x2="294" y2="376" stroke="#231f20" stroke-width="1.1"/>
<line x1="290.4" y1="379" x2="294" y2="379" stroke="#231f20" stroke-width="1.1"/>
<line x1="301.6" y1="376.9" x2="311.2" y2="376.9" stroke="#231f20" stroke-width="1.7"/>
<line x1="316.5" y1="383.8" x2="326.1" y2="383.8" stroke="#231f20" stroke-width="1.7"/>
<line x1="321.3" y1="382" x2="321.3" y2="385.8" stroke="#231f20" stroke-width="1.1"/>
<line x1="319.5" y1="382" x2="323.1" y2="382" stroke="#231f20" stroke-width="1.1"/>
<line x1="319.5" y1="385.8" x2="323.1" y2="385.8" stroke="#231f20" stroke-width="1.1"/>
<line x1="330.8" y1="398.8" x2="340" y2="398.8" stroke="#231f20" stroke-width="1.7"/>
<line x1="335.4" y1="395.7" x2="335.4" y2="401.8" stroke="#231f20" stroke-width="1.1"/>
<line x1="333.6" y1="395.7" x2="337.2" y2="395.7" stroke="#231f20" stroke-width="1.1"/>
<line x1="333.6" y1="401.8" x2="337.2" y2="401.8" stroke="#231f20" stroke-width="1.1"/>
<line x1="386.1" y1="455.8" x2="386.1" y2="368.5" stroke="#231f20" stroke-width="1.3"/>
<line x1="382.8" y1="455.2" x2="386.1" y2="455.2" stroke="#231f20" stroke-width="1.1"/>
<text x="375.94" y="457.95" font-size="8.58" textLength="4.77" lengthAdjust="spacingAndGlyphs" fill="#231f20">0</text>
<line x1="382.8" y1="438.34" x2="386.1" y2="438.34" stroke="#231f20" stroke-width="1.1"/>
<text x="371.18" y="441.09" font-size="8.58" textLength="9.54" lengthAdjust="spacingAndGlyphs" fill="#231f20">10</text>
<line x1="382.8" y1="421.48" x2="386.1" y2="421.48" stroke="#231f20" stroke-width="1.1"/>
<text x="371.18" y="424.23" font-size="8.58" textLength="9.54" lengthAdjust="spacingAndGlyphs" fill="#231f20">20</text>
<line x1="382.8" y1="404.62" x2="386.1" y2="404.62" stroke="#231f20" stroke-width="1.1"/>
<text x="371.18" y="407.37" font-size="8.58" textLength="9.54" lengthAdjust="spacingAndGlyphs" fill="#231f20">30</text>
<line x1="382.8" y1="387.76" x2="386.1" y2="387.76" stroke="#231f20" stroke-width="1.1"/>
<text x="371.18" y="390.51" font-size="8.58" textLength="9.54" lengthAdjust="spacingAndGlyphs" fill="#231f20">40</text>
<line x1="382.8" y1="370.9" x2="386.1" y2="370.9" stroke="#231f20" stroke-width="1.1"/>
<text x="371.18" y="373.65" font-size="8.58" textLength="9.54" lengthAdjust="spacingAndGlyphs" fill="#231f20">50</text>
<line x1="385.5" y1="455.2" x2="457.5" y2="455.2" stroke="#231f20" stroke-width="1.3"/>
<line x1="393.5" y1="455.2" x2="393.5" y2="457.8" stroke="#231f20" stroke-width="1.1"/>
<line x1="407.7" y1="455.2" x2="407.7" y2="457.8" stroke="#231f20" stroke-width="1.1"/>
<line x1="422.1" y1="455.2" x2="422.1" y2="457.8" stroke="#231f20" stroke-width="1.1"/>
<line x1="436.2" y1="455.2" x2="436.2" y2="457.8" stroke="#231f20" stroke-width="1.1"/>
<line x1="450.6" y1="455.2" x2="450.6" y2="457.8" stroke="#231f20" stroke-width="1.1"/>
<text transform="translate(397.5,464.8) rotate(-45)" x="-27.28" y="0" font-size="7.82" textLength="27.28" lengthAdjust="spacingAndGlyphs" fill="#231f20">Patient</text>
<text transform="translate(411,465.3) rotate(-45)" x="-30.14" y="0" font-size="7.92" textLength="30.14" lengthAdjust="spacingAndGlyphs" fill="#231f20">Thymus</text>
<text transform="translate(426.5,464) rotate(-45)" x="-14.53" y="0" font-size="7.7" textLength="14.53" lengthAdjust="spacingAndGlyphs" fill="#231f20">BM</text>
<text transform="translate(440.25,464) rotate(-45)" x="-27.52" y="0" font-size="7.79" textLength="27.52" lengthAdjust="spacingAndGlyphs" fill="#231f20">Spleen</text>
<text transform="translate(454,464.1) rotate(-45)" x="-19.36" y="0" font-size="7.81" textLength="19.36" lengthAdjust="spacingAndGlyphs" fill="#231f20">Liver</text>
<g transform="translate(363.8,437.5) rotate(-90)">
<text x="-0.68" y="0" font-size="9.74" textLength="18.61" lengthAdjust="spacingAndGlyphs" fill="#231f20">IL-7R</text>
<text x="17.92" y="-3.9" font-size="6.04" textLength="4.07" lengthAdjust="spacingAndGlyphs" fill="#231f20">+ </text>
<text x="21.99" y="0" font-size="9.74" textLength="31.28" lengthAdjust="spacingAndGlyphs" fill="#231f20"> cells (%)</text>
</g>
<path d="M393.5 442.65L395.65 444.8L393.5 446.95L391.35 444.8Z" fill="#a50a2d"/>
<path d="M407.7 382.95L409.85 385.1L407.7 387.25L405.55 385.1Z" fill="#a50a2d"/>
<path d="M405.4 433.95L407.55 436.1L405.4 438.25L403.25 436.1Z" fill="#a50a2d"/>
<path d="M410 429.65L412.15 431.8L410 433.95L407.85 431.8Z" fill="#a50a2d"/>
<path d="M422.1 398.15L424.25 400.3L422.1 402.45L419.95 400.3Z" fill="#a50a2d"/>
<path d="M422.1 416.85L424.25 419L422.1 421.15L419.95 419Z" fill="#a50a2d"/>
<path d="M422.1 428.45L424.25 430.6L422.1 432.75L419.95 430.6Z" fill="#a50a2d"/>
<path d="M434 408.55L436.15 410.7L434 412.85L431.85 410.7Z" fill="#a50a2d"/>
<path d="M438.8 410.25L440.95 412.4L438.8 414.55L436.65 412.4Z" fill="#a50a2d"/>
<path d="M436.2 433.95L438.35 436.1L436.2 438.25L434.05 436.1Z" fill="#a50a2d"/>
<path d="M448.9 448.35L451.05 450.5L448.9 452.65L446.75 450.5Z" fill="#a50a2d"/>
<path d="M451.8 448.85L453.95 451L451.8 453.15L449.65 451Z" fill="#a50a2d"/>
<path d="M450.1 450.55L452.25 452.7L450.1 454.85L447.95 452.7Z" fill="#a50a2d"/>
<line x1="389" y1="444.8" x2="398.2" y2="444.8" stroke="#231f20" stroke-width="1.7"/>
<line x1="403.3" y1="417.2" x2="412.5" y2="417.2" stroke="#231f20" stroke-width="1.7"/>
<line x1="407.9" y1="401.2" x2="407.9" y2="433.7" stroke="#231f20" stroke-width="1.1"/>
<line x1="405.9" y1="401.2" x2="409.9" y2="401.2" stroke="#231f20" stroke-width="1.1"/>
<line x1="405.9" y1="433.7" x2="409.9" y2="433.7" stroke="#231f20" stroke-width="1.1"/>
<line x1="417.2" y1="416.4" x2="426.6" y2="416.4" stroke="#231f20" stroke-width="1.7"/>
<line x1="421.9" y1="407.6" x2="421.9" y2="425.4" stroke="#231f20" stroke-width="1.1"/>
<line x1="419.9" y1="407.6" x2="423.9" y2="407.6" stroke="#231f20" stroke-width="1.1"/>
<line x1="419.9" y1="425.4" x2="423.9" y2="425.4" stroke="#231f20" stroke-width="1.1"/>
<line x1="431.4" y1="419.7" x2="441" y2="419.7" stroke="#231f20" stroke-width="1.7"/>
<line x1="436.2" y1="411.2" x2="436.2" y2="428" stroke="#231f20" stroke-width="1.1"/>
<line x1="434.2" y1="411.2" x2="438.2" y2="411.2" stroke="#231f20" stroke-width="1.1"/>
<line x1="434.2" y1="428" x2="438.2" y2="428" stroke="#231f20" stroke-width="1.1"/>
<line x1="446.3" y1="451" x2="455.3" y2="451" stroke="#231f20" stroke-width="1.7"/>
<rect x="0.6" y="0.6" width="518.8" height="528.8" fill="none" stroke="#000" stroke-width="1.2"/>
</svg></body></html>
